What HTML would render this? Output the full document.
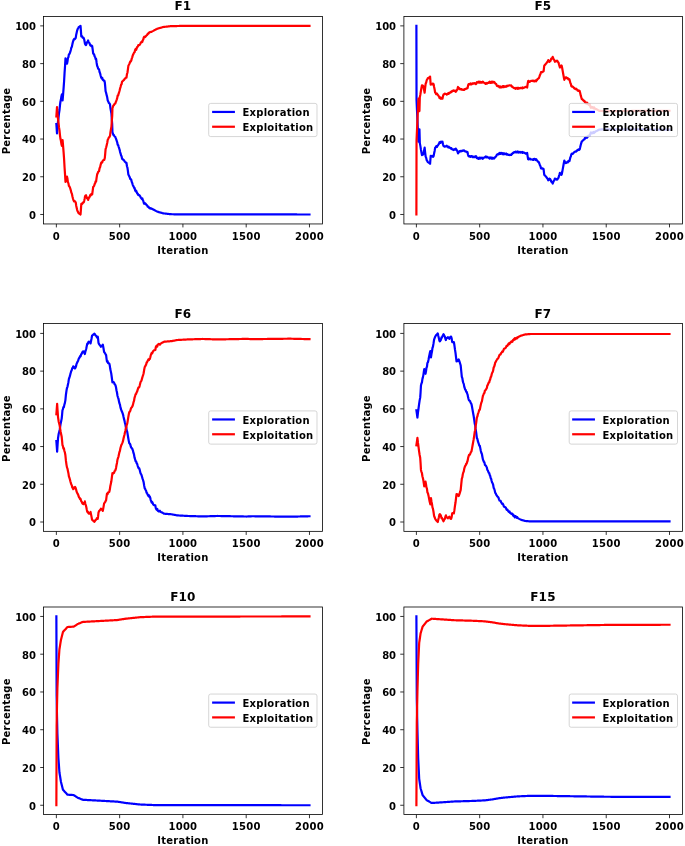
<!DOCTYPE html>
<html lang="en"><head><meta charset="utf-8"><title>Exploration vs Exploitation</title>
<style>
html,body{margin:0;padding:0;background:#fff}
body{width:685px;height:846px;overflow:hidden}
svg{display:block}
svg text{font-family:"DejaVu Sans","Liberation Sans",sans-serif;font-weight:bold;fill:#000}
.t10{font-size:10px;letter-spacing:.24px}
.lt{letter-spacing:.26px}
.yt{letter-spacing:0}
.t12{font-size:12px;letter-spacing:.2px}
.ln{fill:none;stroke-width:2.2;stroke-linecap:square;stroke-linejoin:round}
.b{stroke:#0000ff}
.r{stroke:#ff0000}
.tk{fill:none;stroke:#000;stroke-width:.8}
.fr{fill:none;stroke:#000;stroke-width:.8}
.lg{fill:#fff;fill-opacity:.8;stroke:#ccc;stroke-opacity:.8;stroke-width:1}
</style></head><body>
<svg width="685" height="846" viewBox="0 0 685 846">
<rect width="685" height="846" fill="#fff"/>
<g class="ax">
<path class="ln b" d="M56.37 123.96L57.01 133.39L57.45 127.73L57.89 122.37L58.46 118.23L59.03 112.95L59.5 110.04L59.96 105.35L60.42 101.74L60.93 99.62L61.44 96.22L61.94 94.38L62.58 100.31L63.08 94.58L63.59 88.19L64.09 81.27L64.56 72.86L65.02 66.32L65.49 58.42L65.99 59.68L66.5 61.09L67 63.67L67.47 61.52L67.93 58.08L68.4 57.21L68.88 54.48L69.37 54.1L69.85 52.99L70.34 51.68L70.82 50.01L71.31 47.8L71.88 46.7L72.45 43.86L73.02 41.59L73.58 39.87L74.12 39.01L74.66 39.27L75.2 38.71L75.74 37.89L76.2 34.7L76.66 32.74L77.13 30.54L77.63 29.08L78.14 28.22L78.65 27.21L79.12 26.88L79.6 26.55L80.07 26.22L80.54 25.89L80.92 31.06L81.3 36.41L81.78 35.99L82.27 36.57L82.75 37.75L83.23 37.61L83.71 38.11L84.15 39.35L84.59 41.44L85.04 44.02L85.48 44.69L86.01 45.13L86.54 43.61L87.07 42.01L87.61 42.02L88.14 40.43L88.68 42.47L89.21 42.67L89.75 43.78L90.29 45.38L90.76 45.05L91.24 46.2L91.71 45.74L92.19 46.1L92.69 49.7L93.2 53.5L93.68 53.82L94.17 54.62L94.65 56.39L95.14 57.04L95.62 59.04L96.11 58.93L96.62 62.7L97.12 65.79L97.6 66.79L98.07 68.41L98.55 68.94L99.02 69.17L99.56 72.1L100.1 73.2L100.63 75.53L101.17 77.46L101.7 78.29L102.22 77.81L102.74 79.62L103.27 80.15L103.79 80.63L104.32 80.54L104.84 82.61L105.22 86.7L105.6 91.25L106.14 92.9L106.68 95.22L107.21 97.36L107.75 100.57L108.32 101.61L108.89 102.98L109.46 103.36L110.03 104.51L110.49 108.52L110.96 111.12L111.42 113.66L111.8 119.13L112.18 124.17L112.43 132.1L112.91 133.55L113.38 134.89L113.86 135.08L114.33 136.06L114.81 136.62L115.28 136.86L115.76 138.2L116.23 139.39L116.72 140.79L117.2 142.27L117.69 144.89L118.17 145.03L118.66 146.8L119.14 148.22L119.63 149.85L120.11 152.05L120.6 153.55L121.08 155.56L121.57 156.17L122.05 158.65L122.54 159.16L123.04 159.45L123.53 160.05L124.02 160.27L124.51 161.28L125 161.89L125.5 162.16L125.99 162.77L126.48 162.85L126.96 166.25L127.43 167.64L127.9 170.91L128.38 174.53L128.86 175.49L129.35 176.46L129.83 177.56L130.32 179.1L130.8 179L131.29 179.89L131.76 181.91L132.24 183.01L132.71 184.82L133.19 185.92L133.66 186.65L134.14 187.91L134.61 188.09L135.09 190.35L135.62 191.36L136.16 190.57L136.7 192.06L137.24 193.49L137.77 193.59L138.31 195.25L138.85 195.17L139.39 195.19L139.87 195.85L140.36 196.61L140.84 197.82L141.33 198.11L141.81 198.92L142.3 198.37L142.81 200.09L143.31 200.99L143.82 203.08L144.3 203.73L144.79 203.2L145.27 203.38L145.76 204.08L146.24 204.63L146.73 205.08L147.23 205.52L147.74 206.71L148.25 206.53L148.75 207.12L149.26 207.99L149.77 208.3L150.27 208.19L150.78 208.54L151.28 208.45L151.78 208.71L152.27 208.98L152.77 209.25L153.27 209.51L153.76 209.78L154.26 210.05L154.75 210.32L155.25 210.58L155.74 210.85L156.24 211.12L156.74 211.38L157.23 211.65L157.74 211.79L158.24 211.93L158.75 212.08L159.26 212.22L159.76 212.36L160.27 212.5L160.77 212.64L161.28 212.78L161.79 212.92L162.29 213.07L162.8 213.21L163.31 213.35L163.8 213.41L164.3 213.47L164.8 213.53L165.29 213.59L165.79 213.65L166.29 213.71L166.79 213.77L167.28 213.83L167.78 213.89L168.28 213.96L168.77 214.02L169.27 214.08L169.77 214.14L170.27 214.2L170.77 214.21L171.28 214.22L171.78 214.23L172.29 214.24L172.8 214.25L173.3 214.27L173.81 214.28L174.31 214.29L174.82 214.3L175.33 214.31L175.83 214.32L176.34 214.33L176.85 214.34L177.35 214.36L177.86 214.37L178.36 214.38L178.87 214.39L179.38 214.4L179.88 214.41L180.39 214.42L180.9 214.42L181.4 214.42L181.91 214.42L182.41 214.42L182.92 214.42L183.43 214.43L183.93 214.43L184.44 214.43L184.94 214.43L185.45 214.43L185.96 214.43L186.46 214.43L186.97 214.43L187.48 214.43L187.98 214.43L188.49 214.43L188.99 214.43L189.5 214.43L190.01 214.43L190.51 214.43L191.02 214.43L191.53 214.43L192.03 214.43L192.54 214.43L193.04 214.43L193.55 214.43L194.06 214.43L194.56 214.43L195.07 214.43L195.57 214.43L196.08 214.43L196.59 214.43L197.09 214.43L197.6 214.43L198.11 214.43L198.61 214.43L199.12 214.43L199.62 214.43L200.13 214.43L200.64 214.43L201.14 214.43L201.65 214.43L202.15 214.43L202.66 214.43L203.17 214.43L203.67 214.43L204.18 214.43L204.69 214.43L205.19 214.43L205.7 214.43L206.2 214.44L206.71 214.44L207.22 214.44L207.72 214.44L208.23 214.44L208.74 214.44L209.24 214.44L209.75 214.44L210.25 214.44L210.76 214.44L211.27 214.44L211.77 214.44L212.28 214.44L212.78 214.44L213.29 214.44L213.8 214.44L214.3 214.44L214.81 214.44L215.32 214.44L215.82 214.44L216.33 214.44L216.83 214.44L217.34 214.44L217.85 214.44L218.35 214.44L218.86 214.44L219.37 214.44L219.87 214.44L220.38 214.44L220.88 214.44L221.39 214.44L221.9 214.44L222.4 214.44L222.91 214.44L223.41 214.44L223.92 214.44L224.43 214.44L224.93 214.44L225.44 214.44L225.95 214.44L226.45 214.44L226.96 214.44L227.46 214.44L227.97 214.44L228.48 214.44L228.98 214.45L229.49 214.45L229.99 214.45L230.5 214.45L231.01 214.45L231.51 214.45L232.02 214.45L232.53 214.45L233.03 214.45L233.54 214.45L234.04 214.45L234.55 214.45L235.06 214.45L235.56 214.45L236.07 214.45L236.58 214.45L237.08 214.45L237.59 214.45L238.09 214.45L238.6 214.45L239.11 214.45L239.61 214.45L240.12 214.45L240.62 214.45L241.13 214.45L241.64 214.45L242.14 214.45L242.65 214.45L243.16 214.45L243.66 214.45L244.17 214.45L244.67 214.45L245.18 214.45L245.69 214.45L246.19 214.45L246.7 214.45L247.21 214.45L247.71 214.45L248.22 214.45L248.72 214.45L249.23 214.45L249.74 214.45L250.24 214.45L250.75 214.45L251.25 214.45L251.76 214.46L252.27 214.46L252.77 214.46L253.28 214.46L253.79 214.46L254.29 214.46L254.8 214.46L255.3 214.46L255.81 214.46L256.32 214.46L256.82 214.46L257.33 214.46L257.83 214.46L258.34 214.46L258.85 214.46L259.35 214.46L259.86 214.46L260.37 214.46L260.87 214.46L261.38 214.46L261.88 214.46L262.39 214.46L262.9 214.46L263.4 214.46L263.91 214.46L264.42 214.46L264.92 214.46L265.43 214.46L265.93 214.46L266.44 214.46L266.95 214.46L267.45 214.46L267.96 214.46L268.46 214.46L268.97 214.46L269.48 214.46L269.98 214.46L270.49 214.46L271 214.46L271.5 214.46L272.01 214.46L272.51 214.46L273.02 214.46L273.53 214.46L274.03 214.46L274.54 214.47L275.05 214.47L275.55 214.47L276.06 214.47L276.56 214.47L277.07 214.47L277.58 214.47L278.08 214.47L278.59 214.47L279.09 214.47L279.6 214.47L280.11 214.47L280.61 214.47L281.12 214.47L281.63 214.47L282.13 214.47L282.64 214.47L283.14 214.47L283.65 214.47L284.16 214.47L284.66 214.47L285.17 214.47L285.67 214.47L286.18 214.47L286.69 214.47L287.19 214.47L287.7 214.47L288.21 214.47L288.71 214.47L289.22 214.47L289.72 214.47L290.23 214.47L290.74 214.47L291.24 214.47L291.75 214.47L292.26 214.47L292.76 214.47L293.27 214.47L293.77 214.47L294.28 214.47L294.79 214.47L295.29 214.47L295.8 214.47L296.3 214.47L296.81 214.47L297.32 214.48L297.82 214.48L298.33 214.48L298.84 214.48L299.34 214.48L299.85 214.48L300.35 214.48L300.86 214.48L301.37 214.48L301.87 214.48L302.38 214.48L302.89 214.48L303.39 214.48L303.9 214.48L304.4 214.48L304.91 214.48L305.42 214.48L305.92 214.48L306.43 214.48L306.93 214.48L307.44 214.48L307.95 214.48L308.45 214.48L308.96 214.48L309.47 214.48"/>
<path class="ln r" d="M56.37 116.41L57.01 106.98L57.45 112.64L57.89 118L58.46 122.14L59.03 127.42L59.5 130.33L59.96 135.02L60.42 138.63L60.93 140.75L61.44 144.15L61.94 145.99L62.58 140.06L63.08 145.79L63.59 152.18L64.09 159.1L64.56 167.51L65.02 174.05L65.49 181.95L65.99 180.69L66.5 179.28L67 176.7L67.47 178.85L67.93 182.29L68.4 183.16L68.88 185.89L69.37 186.27L69.85 187.38L70.34 188.69L70.82 190.36L71.31 192.57L71.88 193.67L72.45 196.51L73.02 198.78L73.58 200.5L74.12 201.36L74.66 201.1L75.2 201.66L75.74 202.48L76.2 205.67L76.66 207.63L77.13 209.83L77.63 211.29L78.14 212.15L78.65 213.16L79.12 213.49L79.6 213.82L80.07 214.15L80.54 214.48L80.92 209.31L81.3 203.96L81.78 204.38L82.27 203.8L82.75 202.62L83.23 202.76L83.71 202.26L84.15 201.02L84.59 198.93L85.04 196.35L85.48 195.68L86.01 195.24L86.54 196.76L87.07 198.36L87.61 198.35L88.14 199.94L88.68 197.9L89.21 197.7L89.75 196.59L90.29 194.99L90.76 195.32L91.24 194.17L91.71 194.63L92.19 194.27L92.69 190.67L93.2 186.87L93.68 186.55L94.17 185.75L94.65 183.98L95.14 183.33L95.62 181.33L96.11 181.44L96.62 177.67L97.12 174.58L97.6 173.58L98.07 171.96L98.55 171.43L99.02 171.2L99.56 168.27L100.1 167.17L100.63 164.84L101.17 162.91L101.7 162.08L102.22 162.56L102.74 160.75L103.27 160.22L103.79 159.74L104.32 159.83L104.84 157.76L105.22 153.67L105.6 149.12L106.14 147.47L106.68 145.15L107.21 143.01L107.75 139.8L108.32 138.76L108.89 137.39L109.46 137.01L110.03 135.86L110.49 131.85L110.96 129.25L111.42 126.71L111.8 121.24L112.18 116.2L112.43 108.27L112.91 106.82L113.38 105.48L113.86 105.29L114.33 104.31L114.81 103.75L115.28 103.51L115.76 102.17L116.23 100.98L116.72 99.58L117.2 98.1L117.69 95.48L118.17 95.34L118.66 93.57L119.14 92.15L119.63 90.52L120.11 88.32L120.6 86.82L121.08 84.81L121.57 84.2L122.05 81.72L122.54 81.21L123.04 80.92L123.53 80.32L124.02 80.1L124.51 79.09L125 78.48L125.5 78.21L125.99 77.6L126.48 77.52L126.96 74.12L127.43 72.73L127.9 69.46L128.38 65.84L128.86 64.88L129.35 63.91L129.83 62.81L130.32 61.27L130.8 61.37L131.29 60.48L131.76 58.46L132.24 57.36L132.71 55.55L133.19 54.45L133.66 53.72L134.14 52.46L134.61 52.28L135.09 50.02L135.62 49.01L136.16 49.8L136.7 48.31L137.24 46.88L137.77 46.78L138.31 45.12L138.85 45.2L139.39 45.18L139.87 44.52L140.36 43.76L140.84 42.55L141.33 42.26L141.81 41.45L142.3 42L142.81 40.28L143.31 39.38L143.82 37.29L144.3 36.64L144.79 37.17L145.27 36.99L145.76 36.29L146.24 35.74L146.73 35.29L147.23 34.85L147.74 33.66L148.25 33.84L148.75 33.25L149.26 32.38L149.77 32.07L150.27 32.18L150.78 31.83L151.28 31.92L151.78 31.66L152.27 31.39L152.77 31.12L153.27 30.86L153.76 30.59L154.26 30.32L154.75 30.05L155.25 29.79L155.74 29.52L156.24 29.25L156.74 28.99L157.23 28.72L157.74 28.58L158.24 28.44L158.75 28.29L159.26 28.15L159.76 28.01L160.27 27.87L160.77 27.73L161.28 27.59L161.79 27.45L162.29 27.3L162.8 27.16L163.31 27.02L163.8 26.96L164.3 26.9L164.8 26.84L165.29 26.78L165.79 26.72L166.29 26.66L166.79 26.6L167.28 26.54L167.78 26.48L168.28 26.41L168.77 26.35L169.27 26.29L169.77 26.23L170.27 26.17L170.77 26.16L171.28 26.15L171.78 26.14L172.29 26.13L172.8 26.12L173.3 26.1L173.81 26.09L174.31 26.08L174.82 26.07L175.33 26.06L175.83 26.05L176.34 26.04L176.85 26.03L177.35 26.01L177.86 26L178.36 25.99L178.87 25.98L179.38 25.97L179.88 25.96L180.39 25.95L180.9 25.95L181.4 25.95L181.91 25.95L182.41 25.95L182.92 25.95L183.43 25.94L183.93 25.94L184.44 25.94L184.94 25.94L185.45 25.94L185.96 25.94L186.46 25.94L186.97 25.94L187.48 25.94L187.98 25.94L188.49 25.94L188.99 25.94L189.5 25.94L190.01 25.94L190.51 25.94L191.02 25.94L191.53 25.94L192.03 25.94L192.54 25.94L193.04 25.94L193.55 25.94L194.06 25.94L194.56 25.94L195.07 25.94L195.57 25.94L196.08 25.94L196.59 25.94L197.09 25.94L197.6 25.94L198.11 25.94L198.61 25.94L199.12 25.94L199.62 25.94L200.13 25.94L200.64 25.94L201.14 25.94L201.65 25.94L202.15 25.94L202.66 25.94L203.17 25.94L203.67 25.94L204.18 25.94L204.69 25.94L205.19 25.94L205.7 25.94L206.2 25.93L206.71 25.93L207.22 25.93L207.72 25.93L208.23 25.93L208.74 25.93L209.24 25.93L209.75 25.93L210.25 25.93L210.76 25.93L211.27 25.93L211.77 25.93L212.28 25.93L212.78 25.93L213.29 25.93L213.8 25.93L214.3 25.93L214.81 25.93L215.32 25.93L215.82 25.93L216.33 25.93L216.83 25.93L217.34 25.93L217.85 25.93L218.35 25.93L218.86 25.93L219.37 25.93L219.87 25.93L220.38 25.93L220.88 25.93L221.39 25.93L221.9 25.93L222.4 25.93L222.91 25.93L223.41 25.93L223.92 25.93L224.43 25.93L224.93 25.93L225.44 25.93L225.95 25.93L226.45 25.93L226.96 25.93L227.46 25.93L227.97 25.93L228.48 25.93L228.98 25.92L229.49 25.92L229.99 25.92L230.5 25.92L231.01 25.92L231.51 25.92L232.02 25.92L232.53 25.92L233.03 25.92L233.54 25.92L234.04 25.92L234.55 25.92L235.06 25.92L235.56 25.92L236.07 25.92L236.58 25.92L237.08 25.92L237.59 25.92L238.09 25.92L238.6 25.92L239.11 25.92L239.61 25.92L240.12 25.92L240.62 25.92L241.13 25.92L241.64 25.92L242.14 25.92L242.65 25.92L243.16 25.92L243.66 25.92L244.17 25.92L244.67 25.92L245.18 25.92L245.69 25.92L246.19 25.92L246.7 25.92L247.21 25.92L247.71 25.92L248.22 25.92L248.72 25.92L249.23 25.92L249.74 25.92L250.24 25.92L250.75 25.92L251.25 25.92L251.76 25.91L252.27 25.91L252.77 25.91L253.28 25.91L253.79 25.91L254.29 25.91L254.8 25.91L255.3 25.91L255.81 25.91L256.32 25.91L256.82 25.91L257.33 25.91L257.83 25.91L258.34 25.91L258.85 25.91L259.35 25.91L259.86 25.91L260.37 25.91L260.87 25.91L261.38 25.91L261.88 25.91L262.39 25.91L262.9 25.91L263.4 25.91L263.91 25.91L264.42 25.91L264.92 25.91L265.43 25.91L265.93 25.91L266.44 25.91L266.95 25.91L267.45 25.91L267.96 25.91L268.46 25.91L268.97 25.91L269.48 25.91L269.98 25.91L270.49 25.91L271 25.91L271.5 25.91L272.01 25.91L272.51 25.91L273.02 25.91L273.53 25.91L274.03 25.91L274.54 25.9L275.05 25.9L275.55 25.9L276.06 25.9L276.56 25.9L277.07 25.9L277.58 25.9L278.08 25.9L278.59 25.9L279.09 25.9L279.6 25.9L280.11 25.9L280.61 25.9L281.12 25.9L281.63 25.9L282.13 25.9L282.64 25.9L283.14 25.9L283.65 25.9L284.16 25.9L284.66 25.9L285.17 25.9L285.67 25.9L286.18 25.9L286.69 25.9L287.19 25.9L287.7 25.9L288.21 25.9L288.71 25.9L289.22 25.9L289.72 25.9L290.23 25.9L290.74 25.9L291.24 25.9L291.75 25.9L292.26 25.9L292.76 25.9L293.27 25.9L293.77 25.9L294.28 25.9L294.79 25.9L295.29 25.9L295.8 25.9L296.3 25.9L296.81 25.9L297.32 25.89L297.82 25.89L298.33 25.89L298.84 25.89L299.34 25.89L299.85 25.89L300.35 25.89L300.86 25.89L301.37 25.89L301.87 25.89L302.38 25.89L302.89 25.89L303.39 25.89L303.9 25.89L304.4 25.89L304.91 25.89L305.42 25.89L305.92 25.89L306.43 25.89L306.93 25.89L307.44 25.89L307.95 25.89L308.45 25.89L308.96 25.89L309.47 25.89"/>
<path class="tk" d="M56.37 223.91v3.5M119.65 223.91v3.5M182.92 223.91v3.5M246.19 223.91v3.5M309.47 223.91v3.5M43.72 214.48h-3.5M43.72 176.76h-3.5M43.72 139.04h-3.5M43.72 101.33h-3.5M43.72 63.61h-3.5M43.72 25.89h-3.5"/>
<rect class="fr" x="43.5" y="16.45" width="278.95" height="207.5"/>
<g class="t10" text-anchor="middle">
<text x="56.37" y="240">0</text>
<text x="119.65" y="240">500</text>
<text x="182.92" y="240">1000</text>
<text x="246.19" y="240">1500</text>
<text x="309.47" y="240">2000</text>
<text x="182.92" y="254">Iteration</text>
</g>
<g class="t10 yt" text-anchor="end">
<text x="36.02" y="219">0</text>
<text x="36.02" y="181">20</text>
<text x="36.02" y="143">40</text>
<text x="36.02" y="106">60</text>
<text x="36.02" y="68">80</text>
<text x="36.02" y="30">100</text>
</g>
<text class="t10" text-anchor="middle" transform="translate(9.52 120.98) rotate(-90)">Percentage</text>
<text class="t12" text-anchor="middle" x="182.92" y="10.26">F1</text>
<rect class="lg" x="208.7" y="103.39" width="108.3" height="33.2" rx="2" ry="2"/>
<path class="ln b" d="M213.22 111.94h20.6"/>
<path class="ln r" d="M213.22 126.74h20.6"/>
<text class="t10 lt" x="242.42" y="116">Exploration</text>
<text class="t10 lt" x="242.42" y="131">Exploitation</text>
</g>
<g class="ax">
<path class="ln b" d="M416.4 25.89L416.53 100.01L417.01 110.57L417.48 121.13L417.95 131.43L418.43 141.65L418.94 136.1L419.44 129.23L419.82 143.11L420.36 145.89L420.9 149.41L421.43 152.33L421.97 155.06L422.48 154.85L422.98 154.58L423.49 153.78L424.06 150.49L424.63 147.65L425.14 152.46L425.64 156.57L426.18 157.84L426.72 160.24L427.26 160.94L427.79 162.08L428.36 162.43L428.93 162.66L429.5 163.21L430.07 163.8L430.7 155.82L431.19 156.52L431.67 156L432.16 155.87L432.64 156.72L433.13 156.81L433.61 156.18L434.12 153.33L434.63 150.92L435.13 147.83L435.62 147.55L436.1 146.3L436.59 146.18L437.07 146.8L437.56 145.65L438.04 145.2L438.55 144.43L439.06 143.64L439.56 142.19L440.05 142.74L440.53 142.89L441.02 141.63L441.5 142.05L441.99 142.22L442.47 141.68L443.04 144.51L443.61 146.1L444.14 146.03L444.67 146.72L445.19 146.54L445.72 146.36L446.25 146.3L446.78 145.72L447.26 146.47L447.75 146.57L448.23 147.26L448.72 146.55L449.2 147.6L449.69 147.77L450.17 147.92L450.66 147.81L451.14 148.77L451.63 148.43L452.11 149.29L452.6 149.56L453.12 149.47L453.65 150.03L454.17 149.36L454.69 149.59L455.22 149.72L455.74 148.56L456.27 149.28L456.71 149.97L457.15 150.72L457.6 152.03L458.04 153.42L458.51 152.65L458.99 152.08L459.46 151.26L459.94 151.63L460.46 150.98L460.98 151.34L461.51 151.25L462.03 150.54L462.56 150.83L463.08 150.71L463.61 150.39L464.1 150.38L464.59 151.19L465.08 151.15L465.57 151.48L466.06 151.66L466.55 151.61L467.04 152.12L467.53 152.2L467.97 154.44L468.41 156L468.91 156.32L469.41 156.09L469.91 156L470.41 156.9L470.9 156.5L471.4 156L471.9 156.13L472.4 157.06L472.89 157.08L473.39 156.66L473.89 157.15L474.39 156.93L474.89 157.15L475.38 156.36L475.88 156.21L476.39 156.62L476.89 158.17L477.4 158L477.88 158.07L478.37 158.75L478.85 157.77L479.34 157.66L479.82 158.65L480.31 157.68L480.8 158.41L481.28 158.3L481.77 157.63L482.25 157.84L482.74 158.73L483.22 158.37L483.73 157.76L484.23 157.49L484.74 157.17L485.22 157.01L485.71 156.48L486.19 157.41L486.68 156.7L487.16 156.85L487.65 157.41L488.11 157.43L488.58 157.49L489.04 158.08L489.53 158.67L490.01 157.45L490.5 157.71L490.98 157.47L491.47 158.61L491.95 158.4L492.44 158.7L492.92 157.72L493.41 158.39L493.89 158.58L494.38 158.19L494.86 157.55L495.37 156.79L495.88 156.65L496.38 155.91L496.89 154.52L497.39 154.6L497.9 154.06L498.41 154.48L498.91 154.15L499.42 152.94L499.93 153.35L500.44 153.88L500.95 152.81L501.47 153.27L501.98 153.12L502.49 154.13L503 153.18L503.51 154.29L504.02 153.3L504.54 153.91L505.05 154.12L505.56 153.91L506.07 153.48L506.58 154.41L507.09 154.66L507.61 154.2L508.12 154.65L508.63 154.88L509.14 154.88L509.65 155.09L510.16 154.96L510.68 154.88L511.19 154.95L511.67 153.85L512.16 153.97L512.64 153.19L513.13 153.11L513.61 152.38L514.1 152.32L514.6 152.07L515.1 152.44L515.6 151.55L516.1 151.84L516.6 152.38L517.11 152.06L517.61 151.51L518.11 152.66L518.61 151.78L519.11 152.35L519.61 152.32L520.11 151.93L520.61 152.58L521.12 152.48L521.62 152.3L522.12 151.97L522.62 152.87L523.12 152.29L523.62 152.51L524.12 152.66L524.63 153.02L525.13 153.16L525.63 153.6L526.13 153.56L526.63 153.7L527.13 152.87L527.64 156.34L528.14 159.29L528.64 159.45L529.14 158.51L529.64 158.52L530.14 158.84L530.64 159.41L531.14 159.52L531.64 159.51L532.13 159.34L532.63 159.8L533.13 159.47L533.63 159.77L534.13 158.9L534.63 158.94L535.13 159.56L535.63 160.02L536.12 159.12L536.62 160.04L537.16 160.54L537.7 161.58L538.24 161.64L538.77 162.09L539.34 163.46L539.91 165.28L540.48 166.29L541.05 168.36L541.56 168.17L542.06 168.55L542.57 168.3L543.08 168.92L543.58 169.09L544.22 174.57L544.72 175.39L545.23 175.66L545.73 176.46L546.24 176.9L546.75 177.76L547.25 178.41L547.76 178.93L548.26 180.3L548.77 179.88L549.28 178.51L549.78 179.11L550.27 179.2L550.75 180.16L551.24 181.8L551.72 181.6L552.21 182.37L552.69 183.57L553.23 182.16L553.77 180.78L554.31 180.4L554.85 178.62L555.38 179.02L555.92 178.96L556.46 179.38L557 179.73L557.5 179.35L558.01 178.26L558.52 177.84L558.98 175.88L559.44 174.54L559.91 172.86L560.35 173.43L560.79 173.83L561.24 174.88L561.68 174.62L562.21 172.08L562.74 169.09L563.27 166.19L563.8 163.21L564.34 160.56L564.8 162.14L565.26 162.04L565.73 163.04L566.25 162.96L566.78 162.52L567.3 161.95L567.83 162.33L568.35 161.04L568.87 161.27L569.4 161.11L569.87 159.39L570.35 157.32L570.82 156.55L571.3 154.38L571.82 153.67L572.34 153.91L572.86 153.66L573.38 153.13L573.9 152.46L574.42 151.96L574.94 151.76L575.46 151.32L575.98 151.67L576.5 151.26L577.03 150.79L577.55 149.82L578.08 150.08L578.6 149.41L579.12 149.82L579.65 149.43L580.19 147.32L580.72 144.95L581.26 143.08L581.8 141.26L582.32 141.26L582.85 140.45L583.37 140.01L583.9 139.49L584.42 139.44L584.95 137.9L585.47 138.31L586.01 137L586.54 136.77L587.08 137.7L587.62 136.84L588.16 136.08L588.7 135.6L589.23 136L589.77 135.95L590.4 133.58L590.91 132.52L591.42 133.39L591.92 132.81L592.43 133.29L592.94 132.69L593.44 132.03L593.95 133.02L594.45 132.02L594.96 132.12L595.47 131.3L595.97 131.23L596.48 131.19L596.98 130.87L597.49 130.56L598 130.24L598.5 129.93L599.01 129.61L599.53 129.57L600.05 129.53L600.57 129.49L601.09 129.45L601.61 129.4L602.13 129.36L602.65 129.32L603.17 129.28L603.69 129.24L604.2 129.24L604.7 129.24L605.21 129.25L605.72 129.25L606.22 129.25L606.73 129.25L607.24 129.26L607.74 129.26L608.25 129.26L608.75 129.27L609.26 129.27L609.77 129.27L610.27 129.28L610.78 129.28L611.28 129.28L611.79 129.28L612.3 129.29L612.8 129.29L613.31 129.29L613.82 129.3L614.32 129.3L614.83 129.3L615.33 129.3L615.84 129.31L616.35 129.31L616.85 129.31L617.36 129.32L617.86 129.32L618.37 129.32L618.88 129.32L619.38 129.33L619.89 129.33L620.4 129.33L620.9 129.34L621.41 129.34L621.91 129.34L622.42 129.34L622.93 129.35L623.43 129.35L623.94 129.35L624.45 129.36L624.95 129.36L625.46 129.36L625.96 129.37L626.47 129.37L626.98 129.37L627.48 129.37L627.99 129.38L628.49 129.38L629 129.38L629.51 129.39L630.01 129.39L630.52 129.39L631.03 129.39L631.53 129.4L632.04 129.4L632.54 129.4L633.05 129.41L633.56 129.41L634.06 129.41L634.57 129.41L635.08 129.42L635.58 129.42L636.09 129.42L636.59 129.43L637.1 129.43L637.61 129.43L638.11 129.43L638.62 129.44L639.12 129.44L639.63 129.44L640.14 129.45L640.64 129.45L641.15 129.45L641.66 129.45L642.16 129.46L642.67 129.46L643.17 129.46L643.68 129.47L644.19 129.47L644.69 129.47L645.2 129.48L645.7 129.48L646.21 129.48L646.72 129.48L647.22 129.49L647.73 129.49L648.24 129.49L648.74 129.5L649.25 129.5L649.75 129.5L650.26 129.5L650.77 129.51L651.27 129.51L651.78 129.51L652.29 129.52L652.79 129.52L653.3 129.52L653.8 129.52L654.31 129.53L654.82 129.53L655.32 129.53L655.83 129.54L656.33 129.54L656.84 129.54L657.35 129.54L657.85 129.55L658.36 129.55L658.87 129.55L659.37 129.56L659.88 129.56L660.38 129.56L660.89 129.57L661.4 129.57L661.9 129.57L662.41 129.57L662.92 129.58L663.42 129.58L663.93 129.58L664.43 129.59L664.94 129.59L665.45 129.59L665.95 129.59L666.46 129.6L666.96 129.6L667.47 129.6L667.98 129.61L668.48 129.61L668.99 129.61L669.5 129.61"/>
<path class="ln r" d="M416.4 214.48L416.53 140.36L417.01 129.8L417.48 119.24L417.95 108.94L418.43 98.72L418.94 104.27L419.44 111.14L419.82 97.26L420.36 94.48L420.9 90.96L421.43 88.04L421.97 85.31L422.48 85.52L422.98 85.79L423.49 86.59L424.06 89.88L424.63 92.72L425.14 87.91L425.64 83.8L426.18 82.53L426.72 80.13L427.26 79.43L427.79 78.29L428.36 77.94L428.93 77.71L429.5 77.16L430.07 76.57L430.7 84.55L431.19 83.85L431.67 84.37L432.16 84.5L432.64 83.65L433.13 83.56L433.61 84.19L434.12 87.04L434.63 89.45L435.13 92.54L435.62 92.82L436.1 94.07L436.59 94.19L437.07 93.57L437.56 94.72L438.04 95.17L438.55 95.94L439.06 96.73L439.56 98.18L440.05 97.63L440.53 97.48L441.02 98.74L441.5 98.32L441.99 98.15L442.47 98.69L443.04 95.86L443.61 94.27L444.14 94.34L444.67 93.65L445.19 93.83L445.72 94.01L446.25 94.07L446.78 94.65L447.26 93.9L447.75 93.8L448.23 93.11L448.72 93.82L449.2 92.77L449.69 92.6L450.17 92.45L450.66 92.56L451.14 91.6L451.63 91.94L452.11 91.08L452.6 90.81L453.12 90.9L453.65 90.34L454.17 91.01L454.69 90.78L455.22 90.65L455.74 91.81L456.27 91.09L456.71 90.4L457.15 89.65L457.6 88.34L458.04 86.95L458.51 87.72L458.99 88.29L459.46 89.11L459.94 88.74L460.46 89.39L460.98 89.03L461.51 89.12L462.03 89.83L462.56 89.54L463.08 89.66L463.61 89.98L464.1 89.99L464.59 89.18L465.08 89.22L465.57 88.89L466.06 88.71L466.55 88.76L467.04 88.25L467.53 88.17L467.97 85.93L468.41 84.37L468.91 84.05L469.41 84.28L469.91 84.37L470.41 83.47L470.9 83.87L471.4 84.37L471.9 84.24L472.4 83.31L472.89 83.29L473.39 83.71L473.89 83.22L474.39 83.44L474.89 83.22L475.38 84.01L475.88 84.16L476.39 83.75L476.89 82.2L477.4 82.37L477.88 82.3L478.37 81.62L478.85 82.6L479.34 82.71L479.82 81.72L480.31 82.69L480.8 81.96L481.28 82.07L481.77 82.74L482.25 82.53L482.74 81.64L483.22 82L483.73 82.61L484.23 82.88L484.74 83.2L485.22 83.36L485.71 83.89L486.19 82.96L486.68 83.67L487.16 83.52L487.65 82.96L488.11 82.94L488.58 82.88L489.04 82.29L489.53 81.7L490.01 82.92L490.5 82.66L490.98 82.9L491.47 81.76L491.95 81.97L492.44 81.67L492.92 82.65L493.41 81.98L493.89 81.79L494.38 82.18L494.86 82.82L495.37 83.58L495.88 83.72L496.38 84.46L496.89 85.85L497.39 85.77L497.9 86.31L498.41 85.89L498.91 86.22L499.42 87.43L499.93 87.02L500.44 86.49L500.95 87.56L501.47 87.1L501.98 87.25L502.49 86.24L503 87.19L503.51 86.08L504.02 87.07L504.54 86.46L505.05 86.25L505.56 86.46L506.07 86.89L506.58 85.96L507.09 85.71L507.61 86.17L508.12 85.72L508.63 85.49L509.14 85.49L509.65 85.28L510.16 85.41L510.68 85.49L511.19 85.42L511.67 86.52L512.16 86.4L512.64 87.18L513.13 87.26L513.61 87.99L514.1 88.05L514.6 88.3L515.1 87.93L515.6 88.82L516.1 88.53L516.6 87.99L517.11 88.31L517.61 88.86L518.11 87.71L518.61 88.59L519.11 88.02L519.61 88.05L520.11 88.44L520.61 87.79L521.12 87.89L521.62 88.07L522.12 88.4L522.62 87.5L523.12 88.08L523.62 87.86L524.12 87.71L524.63 87.35L525.13 87.21L525.63 86.77L526.13 86.81L526.63 86.67L527.13 87.5L527.64 84.03L528.14 81.08L528.64 80.92L529.14 81.86L529.64 81.85L530.14 81.53L530.64 80.96L531.14 80.85L531.64 80.86L532.13 81.03L532.63 80.57L533.13 80.9L533.63 80.6L534.13 81.47L534.63 81.43L535.13 80.81L535.63 80.35L536.12 81.25L536.62 80.33L537.16 79.83L537.7 78.79L538.24 78.73L538.77 78.28L539.34 76.91L539.91 75.09L540.48 74.08L541.05 72.01L541.56 72.2L542.06 71.82L542.57 72.07L543.08 71.45L543.58 71.28L544.22 65.8L544.72 64.98L545.23 64.71L545.73 63.91L546.24 63.47L546.75 62.61L547.25 61.96L547.76 61.44L548.26 60.07L548.77 60.49L549.28 61.86L549.78 61.26L550.27 61.17L550.75 60.21L551.24 58.57L551.72 58.77L552.21 58L552.69 56.8L553.23 58.21L553.77 59.59L554.31 59.97L554.85 61.75L555.38 61.35L555.92 61.41L556.46 60.99L557 60.64L557.5 61.02L558.01 62.11L558.52 62.53L558.98 64.49L559.44 65.83L559.91 67.51L560.35 66.94L560.79 66.54L561.24 65.49L561.68 65.75L562.21 68.29L562.74 71.28L563.27 74.18L563.8 77.16L564.34 79.81L564.8 78.23L565.26 78.33L565.73 77.33L566.25 77.41L566.78 77.85L567.3 78.42L567.83 78.04L568.35 79.33L568.87 79.1L569.4 79.26L569.87 80.98L570.35 83.05L570.82 83.82L571.3 85.99L571.82 86.7L572.34 86.46L572.86 86.71L573.38 87.24L573.9 87.91L574.42 88.41L574.94 88.61L575.46 89.05L575.98 88.7L576.5 89.11L577.03 89.58L577.55 90.55L578.08 90.29L578.6 90.96L579.12 90.55L579.65 90.94L580.19 93.05L580.72 95.42L581.26 97.29L581.8 99.11L582.32 99.11L582.85 99.92L583.37 100.36L583.9 100.88L584.42 100.93L584.95 102.47L585.47 102.06L586.01 103.37L586.54 103.6L587.08 102.67L587.62 103.53L588.16 104.29L588.7 104.77L589.23 104.37L589.77 104.42L590.4 106.79L590.91 107.85L591.42 106.98L591.92 107.56L592.43 107.08L592.94 107.68L593.44 108.34L593.95 107.35L594.45 108.35L594.96 108.25L595.47 109.07L595.97 109.14L596.48 109.18L596.98 109.5L597.49 109.81L598 110.13L598.5 110.44L599.01 110.76L599.53 110.8L600.05 110.84L600.57 110.88L601.09 110.92L601.61 110.97L602.13 111.01L602.65 111.05L603.17 111.09L603.69 111.13L604.2 111.13L604.7 111.13L605.21 111.12L605.72 111.12L606.22 111.12L606.73 111.12L607.24 111.11L607.74 111.11L608.25 111.11L608.75 111.1L609.26 111.1L609.77 111.1L610.27 111.09L610.78 111.09L611.28 111.09L611.79 111.09L612.3 111.08L612.8 111.08L613.31 111.08L613.82 111.07L614.32 111.07L614.83 111.07L615.33 111.07L615.84 111.06L616.35 111.06L616.85 111.06L617.36 111.05L617.86 111.05L618.37 111.05L618.88 111.05L619.38 111.04L619.89 111.04L620.4 111.04L620.9 111.03L621.41 111.03L621.91 111.03L622.42 111.03L622.93 111.02L623.43 111.02L623.94 111.02L624.45 111.01L624.95 111.01L625.46 111.01L625.96 111L626.47 111L626.98 111L627.48 111L627.99 110.99L628.49 110.99L629 110.99L629.51 110.98L630.01 110.98L630.52 110.98L631.03 110.98L631.53 110.97L632.04 110.97L632.54 110.97L633.05 110.96L633.56 110.96L634.06 110.96L634.57 110.96L635.08 110.95L635.58 110.95L636.09 110.95L636.59 110.94L637.1 110.94L637.61 110.94L638.11 110.94L638.62 110.93L639.12 110.93L639.63 110.93L640.14 110.92L640.64 110.92L641.15 110.92L641.66 110.92L642.16 110.91L642.67 110.91L643.17 110.91L643.68 110.9L644.19 110.9L644.69 110.9L645.2 110.89L645.7 110.89L646.21 110.89L646.72 110.89L647.22 110.88L647.73 110.88L648.24 110.88L648.74 110.87L649.25 110.87L649.75 110.87L650.26 110.87L650.77 110.86L651.27 110.86L651.78 110.86L652.29 110.85L652.79 110.85L653.3 110.85L653.8 110.85L654.31 110.84L654.82 110.84L655.32 110.84L655.83 110.83L656.33 110.83L656.84 110.83L657.35 110.83L657.85 110.82L658.36 110.82L658.87 110.82L659.37 110.81L659.88 110.81L660.38 110.81L660.89 110.8L661.4 110.8L661.9 110.8L662.41 110.8L662.92 110.79L663.42 110.79L663.93 110.79L664.43 110.78L664.94 110.78L665.45 110.78L665.95 110.78L666.46 110.77L666.96 110.77L667.47 110.77L667.98 110.76L668.48 110.76L668.99 110.76L669.5 110.76"/>
<path class="tk" d="M416.4 223.91v3.5M479.68 223.91v3.5M542.95 223.91v3.5M606.22 223.91v3.5M669.5 223.91v3.5M403.75 214.48h-3.5M403.75 176.76h-3.5M403.75 139.04h-3.5M403.75 101.33h-3.5M403.75 63.61h-3.5M403.75 25.89h-3.5"/>
<rect class="fr" x="403.9" y="16.45" width="278.65" height="207.5"/>
<g class="t10" text-anchor="middle">
<text x="416.4" y="240">0</text>
<text x="479.68" y="240">500</text>
<text x="542.95" y="240">1000</text>
<text x="606.22" y="240">1500</text>
<text x="669.5" y="240">2000</text>
<text x="542.95" y="254">Iteration</text>
</g>
<g class="t10 yt" text-anchor="end">
<text x="396.05" y="219">0</text>
<text x="396.05" y="181">20</text>
<text x="396.05" y="143">40</text>
<text x="396.05" y="106">60</text>
<text x="396.05" y="68">80</text>
<text x="396.05" y="30">100</text>
</g>
<text class="t10" text-anchor="middle" transform="translate(369.55 120.98) rotate(-90)">Percentage</text>
<text class="t12" text-anchor="middle" x="542.95" y="10.26">F5</text>
<rect class="lg" x="569.2" y="103.39" width="108.3" height="33.2" rx="2" ry="2"/>
<path class="ln b" d="M573.25 111.94h20.6"/>
<path class="ln r" d="M573.25 126.74h20.6"/>
<text class="t10 lt" x="602.45" y="116">Exploration</text>
<text class="t10 lt" x="602.45" y="131">Exploitation</text>
</g>
<g class="ax">
<path class="ln b" d="M56.37 441.09L56.75 446.38L57.13 451.66L57.58 444.77L58.02 438.34L58.65 434.01L59.29 431.5L59.66 429.93L60.04 427.6L60.59 423.95L61.14 421.19L61.69 418.61L62.07 414.83L62.45 410.43L62.93 409.2L63.41 407.02L63.89 407.16L64.37 404.61L64.85 403.18L65.4 400.12L65.95 394.48L66.5 390.57L66.98 388.02L67.46 386.84L67.94 384.47L68.42 382.21L68.9 378.96L69.38 377.73L69.86 376.19L70.35 374.15L70.83 372.49L71.31 370.95L71.79 370.07L72.27 368.03L72.75 368.17L73.23 366.28L73.71 366.65L74.34 367.75L74.98 368.47L75.51 367.73L76.04 366.14L76.57 363.87L77.1 362.71L77.63 361.55L78.12 360.76L78.6 359.19L79.08 358.05L79.56 357.62L80.04 356.23L80.59 356.43L81.14 354.33L81.68 353.86L82.23 352.41L82.78 351.65L83.33 351.31L83.83 352.53L84.34 351.86L84.85 354.03L85.33 351.67L85.81 350.12L86.29 348.43L86.77 345.9L87.25 343.73L87.8 343.87L88.35 342.13L88.9 341.67L89.45 341.74L89.99 342.52L90.54 343.4L91.05 341.02L91.55 338.56L92.06 335.67L92.54 335.26L93.02 334.84L93.5 334.43L93.98 334.01L94.46 333.6L95.01 334.54L95.56 335.48L96.11 335.74L96.66 336.75L97.21 337.53L97.75 336.68L98.13 339.26L98.51 342.92L99 344.09L99.48 344.64L99.96 345.46L100.44 345.67L100.92 346.74L101.39 346.3L101.87 346.08L102.34 345.36L102.82 344.63L103.45 348.07L104.08 351.85L104.59 352.65L105.09 353.26L105.6 354.32L106.11 355.18L106.55 358.86L106.99 361.7L107.56 361.14L108.13 363.18L108.7 363.15L109.27 363.55L109.78 365.56L110.28 369.06L110.79 371.37L111.3 373.82L111.86 377.99L112.43 382.35L112.97 381.79L113.5 382.27L114.03 382.53L114.56 384.27L115.09 384.56L115.57 385.62L116.04 387.52L116.52 390.46L116.99 392.48L117.47 395.7L117.95 397.26L118.43 398.58L118.91 400.98L119.39 403.15L119.92 404.56L120.45 407.39L120.98 409.23L121.5 410.75L122.03 411.73L122.56 413.06L123.04 414.55L123.52 416.84L124 418.89L124.48 420.62L124.96 423.06L125.41 424.65L125.85 427.26L126.29 427.74L126.73 430.42L127.24 431.82L127.75 434.85L128.25 438L128.76 440.86L129.26 443.21L129.79 443.64L130.31 444.61L130.84 446.68L131.36 447.83L131.89 448.14L132.41 449.12L132.93 450.53L133.47 452.96L134 454.46L134.53 457.62L135.06 459.27L135.59 461.15L136.1 461.41L136.6 463.06L137.11 463.76L137.62 465.56L138.12 467.08L138.63 468.16L139.14 468.06L139.64 469.6L140.13 471.66L140.61 473.53L141.1 474.1L141.58 475.19L142.07 477L142.55 478.66L143.09 480.27L143.63 482.15L144.17 485.64L144.7 488.28L145.17 488.96L145.63 490.01L146.1 490.76L146.56 492.78L147.02 492.96L147.49 494.25L147.95 495.12L148.42 496.1L148.88 495.27L149.34 496.86L149.81 496.47L150.27 497.94L150.71 500.03L151.16 501.19L151.68 502.55L152.2 502L152.72 503.34L153.25 504.43L153.77 504.93L154.29 505.17L154.81 505.31L155.33 505.4L155.78 508.17L156.22 509.17L156.74 509.83L157.27 508.88L157.79 510.65L158.32 511.15L158.84 511.49L159.36 511.27L159.89 510.76L160.43 511.72L160.96 512.01L161.5 512.29L162.04 512.57L162.58 512.85L163.12 513.14L163.65 513.42L164.19 513.7L164.72 513.74L165.24 513.78L165.76 513.82L166.29 513.86L166.81 513.9L167.34 513.94L167.86 513.99L168.39 514.03L168.91 514.07L169.43 514.11L169.96 514.15L170.48 514.19L171.01 514.23L171.53 514.27L172.02 514.36L172.5 514.46L172.99 514.55L173.47 514.65L173.96 514.74L174.44 514.83L174.93 514.93L175.41 515.02L175.9 515.12L176.38 515.21L176.87 515.31L177.35 515.4L177.86 515.43L178.38 515.46L178.89 515.48L179.4 515.51L179.91 515.54L180.43 515.57L180.94 515.6L181.45 515.63L181.96 515.65L182.48 515.68L182.99 515.71L183.5 515.74L184.01 515.77L184.53 515.8L185.04 515.82L185.55 515.85L186.06 515.88L186.58 515.91L187.09 515.94L187.6 515.97L188.11 515.98L188.61 516L189.12 516.01L189.63 516.03L190.13 516.04L190.64 516.06L191.15 516.08L191.65 516.09L192.16 516.11L192.66 516.12L193.17 516.14L193.68 516.15L194.18 516.17L194.69 516.19L195.19 516.2L195.7 516.22L196.21 516.23L196.71 516.25L197.22 516.26L197.73 516.28L198.23 516.3L198.74 516.31L199.24 516.33L199.75 516.34L200.26 516.36L200.76 516.37L201.27 516.39L201.78 516.41L202.28 516.42L202.79 516.44L203.29 516.42L203.79 516.4L204.29 516.39L204.79 516.37L205.3 516.36L205.8 516.34L206.3 516.32L206.8 516.31L207.3 516.29L207.81 516.27L208.31 516.26L208.81 516.24L209.31 516.23L209.81 516.21L210.31 516.19L210.82 516.18L211.32 516.16L211.82 516.14L212.32 516.13L212.82 516.11L213.33 516.1L213.83 516.08L214.33 516.06L214.83 516.05L215.33 516.03L215.83 516.01L216.34 516L216.84 515.98L217.34 515.97L217.84 515.98L218.34 515.99L218.85 515.99L219.35 516L219.85 516.01L220.35 516.02L220.85 516.03L221.35 516.04L221.86 516.05L222.36 516.06L222.86 516.07L223.36 516.08L223.86 516.09L224.37 516.1L224.87 516.11L225.37 516.12L225.87 516.13L226.37 516.14L226.87 516.15L227.38 516.16L227.88 516.17L228.38 516.18L228.88 516.19L229.38 516.2L229.89 516.21L230.39 516.22L230.89 516.23L231.39 516.24L231.89 516.25L232.39 516.26L232.9 516.27L233.4 516.28L233.9 516.29L234.4 516.3L234.9 516.31L235.41 516.32L235.91 516.33L236.41 516.34L236.91 516.35L237.41 516.36L237.91 516.37L238.42 516.38L238.92 516.38L239.42 516.39L239.92 516.4L240.42 516.41L240.93 516.42L241.43 516.43L241.93 516.44L242.43 516.45L242.93 516.46L243.43 516.47L243.94 516.48L244.44 516.49L244.94 516.5L245.44 516.51L245.94 516.52L246.45 516.53L246.93 516.51L247.42 516.48L247.9 516.46L248.39 516.44L248.87 516.41L249.36 516.39L249.84 516.37L250.33 516.34L250.81 516.32L251.3 516.3L251.78 516.27L252.27 516.25L252.77 516.25L253.28 516.26L253.78 516.27L254.28 516.27L254.79 516.28L255.29 516.29L255.8 516.29L256.3 516.3L256.81 516.31L257.31 516.31L257.82 516.32L258.32 516.32L258.83 516.33L259.33 516.34L259.83 516.34L260.34 516.35L260.84 516.36L261.35 516.36L261.85 516.37L262.36 516.37L262.86 516.38L263.37 516.39L263.87 516.39L264.37 516.4L264.88 516.41L265.38 516.41L265.89 516.42L266.39 516.42L266.9 516.43L267.4 516.44L267.91 516.44L268.41 516.45L268.92 516.46L269.42 516.46L269.92 516.47L270.43 516.47L270.93 516.48L271.44 516.49L271.94 516.49L272.45 516.5L272.95 516.51L273.46 516.51L273.96 516.52L274.46 516.53L274.97 516.53L275.47 516.54L275.98 516.54L276.48 516.55L276.99 516.56L277.49 516.56L278 516.57L278.5 516.58L279.01 516.58L279.51 516.59L280.01 516.59L280.52 516.6L281.02 516.61L281.53 516.61L282.03 516.62L282.54 516.63L283.04 516.63L283.55 516.64L284.05 516.64L284.55 516.65L285.06 516.66L285.56 516.66L286.07 516.67L286.57 516.68L287.08 516.68L287.58 516.69L288.09 516.69L288.59 516.7L289.1 516.71L289.6 516.71L290.1 516.72L290.61 516.71L291.12 516.7L291.63 516.68L292.14 516.67L292.65 516.66L293.16 516.65L293.67 516.63L294.18 516.62L294.69 516.61L295.2 516.6L295.71 516.58L296.22 516.57L296.73 516.56L297.24 516.55L297.75 516.53L298.26 516.52L298.77 516.51L299.28 516.5L299.78 516.48L300.29 516.47L300.8 516.46L301.31 516.45L301.82 516.43L302.33 516.42L302.84 516.41L303.35 516.4L303.86 516.38L304.37 516.37L304.88 516.36L305.39 516.35L305.9 516.34L306.41 516.32L306.92 516.31L307.43 516.3L307.94 516.29L308.45 516.27L308.96 516.26L309.47 516.25"/>
<path class="ln r" d="M56.37 414.32L56.75 409.03L57.13 403.75L57.58 410.64L58.02 417.07L58.65 421.4L59.29 423.91L59.66 425.48L60.04 427.81L60.59 431.46L61.14 434.22L61.69 436.8L62.07 440.58L62.45 444.98L62.93 446.21L63.41 448.39L63.89 448.25L64.37 450.8L64.85 452.23L65.4 455.29L65.95 460.93L66.5 464.84L66.98 467.39L67.46 468.57L67.94 470.94L68.42 473.2L68.9 476.45L69.38 477.68L69.86 479.22L70.35 481.26L70.83 482.92L71.31 484.46L71.79 485.34L72.27 487.38L72.75 487.24L73.23 489.13L73.71 488.76L74.34 487.66L74.98 486.94L75.51 487.68L76.04 489.27L76.57 491.54L77.1 492.7L77.63 493.86L78.12 494.65L78.6 496.22L79.08 497.36L79.56 497.79L80.04 499.18L80.59 498.98L81.14 501.08L81.68 501.55L82.23 503L82.78 503.76L83.33 504.1L83.83 502.88L84.34 503.55L84.85 501.38L85.33 503.74L85.81 505.29L86.29 506.98L86.77 509.51L87.25 511.68L87.8 511.54L88.35 513.28L88.9 513.74L89.45 513.67L89.99 512.89L90.54 512.01L91.05 514.39L91.55 516.85L92.06 519.74L92.54 520.15L93.02 520.57L93.5 520.98L93.98 521.4L94.46 521.81L95.01 520.87L95.56 519.93L96.11 519.67L96.66 518.66L97.21 517.88L97.75 518.73L98.13 516.15L98.51 512.49L99 511.32L99.48 510.77L99.96 509.95L100.44 509.74L100.92 508.67L101.39 509.11L101.87 509.33L102.34 510.05L102.82 510.78L103.45 507.34L104.08 503.56L104.59 502.76L105.09 502.15L105.6 501.09L106.11 500.23L106.55 496.55L106.99 493.71L107.56 494.27L108.13 492.23L108.7 492.26L109.27 491.86L109.78 489.85L110.28 486.35L110.79 484.04L111.3 481.59L111.86 477.42L112.43 473.06L112.97 473.62L113.5 473.14L114.03 472.88L114.56 471.14L115.09 470.85L115.57 469.79L116.04 467.89L116.52 464.95L116.99 462.93L117.47 459.71L117.95 458.15L118.43 456.83L118.91 454.43L119.39 452.26L119.92 450.85L120.45 448.02L120.98 446.18L121.5 444.66L122.03 443.68L122.56 442.35L123.04 440.86L123.52 438.57L124 436.52L124.48 434.79L124.96 432.35L125.41 430.76L125.85 428.15L126.29 427.67L126.73 424.99L127.24 423.59L127.75 420.56L128.25 417.41L128.76 414.55L129.26 412.2L129.79 411.77L130.31 410.8L130.84 408.73L131.36 407.58L131.89 407.27L132.41 406.29L132.93 404.88L133.47 402.45L134 400.95L134.53 397.79L135.06 396.14L135.59 394.26L136.1 394L136.6 392.35L137.11 391.65L137.62 389.85L138.12 388.33L138.63 387.25L139.14 387.35L139.64 385.81L140.13 383.75L140.61 381.88L141.1 381.31L141.58 380.22L142.07 378.41L142.55 376.75L143.09 375.14L143.63 373.26L144.17 369.77L144.7 367.13L145.17 366.45L145.63 365.4L146.1 364.65L146.56 362.63L147.02 362.45L147.49 361.16L147.95 360.29L148.42 359.31L148.88 360.14L149.34 358.55L149.81 358.94L150.27 357.47L150.71 355.38L151.16 354.22L151.68 352.86L152.2 353.41L152.72 352.07L153.25 350.98L153.77 350.48L154.29 350.24L154.81 350.1L155.33 350.01L155.78 347.24L156.22 346.24L156.74 345.58L157.27 346.53L157.79 344.76L158.32 344.26L158.84 343.92L159.36 344.14L159.89 344.65L160.43 343.69L160.96 343.4L161.5 343.12L162.04 342.84L162.58 342.56L163.12 342.27L163.65 341.99L164.19 341.71L164.72 341.67L165.24 341.63L165.76 341.59L166.29 341.55L166.81 341.51L167.34 341.47L167.86 341.42L168.39 341.38L168.91 341.34L169.43 341.3L169.96 341.26L170.48 341.22L171.01 341.18L171.53 341.14L172.02 341.05L172.5 340.95L172.99 340.86L173.47 340.76L173.96 340.67L174.44 340.58L174.93 340.48L175.41 340.39L175.9 340.29L176.38 340.2L176.87 340.1L177.35 340.01L177.86 339.98L178.38 339.95L178.89 339.93L179.4 339.9L179.91 339.87L180.43 339.84L180.94 339.81L181.45 339.78L181.96 339.76L182.48 339.73L182.99 339.7L183.5 339.67L184.01 339.64L184.53 339.61L185.04 339.59L185.55 339.56L186.06 339.53L186.58 339.5L187.09 339.47L187.6 339.44L188.11 339.43L188.61 339.41L189.12 339.4L189.63 339.38L190.13 339.37L190.64 339.35L191.15 339.33L191.65 339.32L192.16 339.3L192.66 339.29L193.17 339.27L193.68 339.26L194.18 339.24L194.69 339.22L195.19 339.21L195.7 339.19L196.21 339.18L196.71 339.16L197.22 339.15L197.73 339.13L198.23 339.11L198.74 339.1L199.24 339.08L199.75 339.07L200.26 339.05L200.76 339.04L201.27 339.02L201.78 339L202.28 338.99L202.79 338.97L203.29 338.99L203.79 339.01L204.29 339.02L204.79 339.04L205.3 339.05L205.8 339.07L206.3 339.09L206.8 339.1L207.3 339.12L207.81 339.14L208.31 339.15L208.81 339.17L209.31 339.18L209.81 339.2L210.31 339.22L210.82 339.23L211.32 339.25L211.82 339.27L212.32 339.28L212.82 339.3L213.33 339.31L213.83 339.33L214.33 339.35L214.83 339.36L215.33 339.38L215.83 339.4L216.34 339.41L216.84 339.43L217.34 339.44L217.84 339.43L218.34 339.42L218.85 339.42L219.35 339.41L219.85 339.4L220.35 339.39L220.85 339.38L221.35 339.37L221.86 339.36L222.36 339.35L222.86 339.34L223.36 339.33L223.86 339.32L224.37 339.31L224.87 339.3L225.37 339.29L225.87 339.28L226.37 339.27L226.87 339.26L227.38 339.25L227.88 339.24L228.38 339.23L228.88 339.22L229.38 339.21L229.89 339.2L230.39 339.19L230.89 339.18L231.39 339.17L231.89 339.16L232.39 339.15L232.9 339.14L233.4 339.13L233.9 339.12L234.4 339.11L234.9 339.1L235.41 339.09L235.91 339.08L236.41 339.07L236.91 339.06L237.41 339.05L237.91 339.04L238.42 339.03L238.92 339.03L239.42 339.02L239.92 339.01L240.42 339L240.93 338.99L241.43 338.98L241.93 338.97L242.43 338.96L242.93 338.95L243.43 338.94L243.94 338.93L244.44 338.92L244.94 338.91L245.44 338.9L245.94 338.89L246.45 338.88L246.93 338.9L247.42 338.93L247.9 338.95L248.39 338.97L248.87 339L249.36 339.02L249.84 339.04L250.33 339.07L250.81 339.09L251.3 339.11L251.78 339.14L252.27 339.16L252.77 339.16L253.28 339.15L253.78 339.14L254.28 339.14L254.79 339.13L255.29 339.12L255.8 339.12L256.3 339.11L256.81 339.1L257.31 339.1L257.82 339.09L258.32 339.09L258.83 339.08L259.33 339.07L259.83 339.07L260.34 339.06L260.84 339.05L261.35 339.05L261.85 339.04L262.36 339.04L262.86 339.03L263.37 339.02L263.87 339.02L264.37 339.01L264.88 339L265.38 339L265.89 338.99L266.39 338.99L266.9 338.98L267.4 338.97L267.91 338.97L268.41 338.96L268.92 338.95L269.42 338.95L269.92 338.94L270.43 338.94L270.93 338.93L271.44 338.92L271.94 338.92L272.45 338.91L272.95 338.9L273.46 338.9L273.96 338.89L274.46 338.88L274.97 338.88L275.47 338.87L275.98 338.87L276.48 338.86L276.99 338.85L277.49 338.85L278 338.84L278.5 338.83L279.01 338.83L279.51 338.82L280.01 338.82L280.52 338.81L281.02 338.8L281.53 338.8L282.03 338.79L282.54 338.78L283.04 338.78L283.55 338.77L284.05 338.77L284.55 338.76L285.06 338.75L285.56 338.75L286.07 338.74L286.57 338.73L287.08 338.73L287.58 338.72L288.09 338.72L288.59 338.71L289.1 338.7L289.6 338.7L290.1 338.69L290.61 338.7L291.12 338.71L291.63 338.73L292.14 338.74L292.65 338.75L293.16 338.76L293.67 338.78L294.18 338.79L294.69 338.8L295.2 338.81L295.71 338.83L296.22 338.84L296.73 338.85L297.24 338.86L297.75 338.88L298.26 338.89L298.77 338.9L299.28 338.91L299.78 338.93L300.29 338.94L300.8 338.95L301.31 338.96L301.82 338.98L302.33 338.99L302.84 339L303.35 339.01L303.86 339.03L304.37 339.04L304.88 339.05L305.39 339.06L305.9 339.07L306.41 339.09L306.92 339.1L307.43 339.11L307.94 339.12L308.45 339.14L308.96 339.15L309.47 339.16"/>
<path class="tk" d="M56.37 531.43v3.5M119.65 531.43v3.5M182.92 531.43v3.5M246.19 531.43v3.5M309.47 531.43v3.5M43.72 522h-3.5M43.72 484.28h-3.5M43.72 446.56h-3.5M43.72 408.85h-3.5M43.72 371.13h-3.5M43.72 333.41h-3.5"/>
<rect class="fr" x="43.5" y="323.55" width="278.95" height="207.8"/>
<g class="t10" text-anchor="middle">
<text x="56.37" y="547">0</text>
<text x="119.65" y="547">500</text>
<text x="182.92" y="547">1000</text>
<text x="246.19" y="547">1500</text>
<text x="309.47" y="547">2000</text>
<text x="182.92" y="561">Iteration</text>
</g>
<g class="t10 yt" text-anchor="end">
<text x="36.02" y="526">0</text>
<text x="36.02" y="489">20</text>
<text x="36.02" y="451">40</text>
<text x="36.02" y="413">60</text>
<text x="36.02" y="375">80</text>
<text x="36.02" y="338">100</text>
</g>
<text class="t10" text-anchor="middle" transform="translate(9.52 428.51) rotate(-90)">Percentage</text>
<text class="t12" text-anchor="middle" x="182.92" y="317.78">F6</text>
<rect class="lg" x="208.7" y="410.91" width="108.3" height="33.2" rx="2" ry="2"/>
<path class="ln b" d="M213.22 419.46h20.6"/>
<path class="ln r" d="M213.22 434.26h20.6"/>
<text class="t10 lt" x="242.42" y="424">Exploration</text>
<text class="t10 lt" x="242.42" y="439">Exploitation</text>
</g>
<g class="ax">
<path class="ln b" d="M416.4 410.17L416.91 413.84L417.42 417.52L417.99 412.44L418.56 408.26L419.1 404.04L419.65 400.38L420.2 397.63L420.58 392.31L420.96 385.48L421.44 383.53L421.92 382.48L422.4 379.15L422.88 377.37L423.36 375.11L423.81 371.98L424.25 369.05L424.88 371.78L425.52 373.76L425.99 371.24L426.46 367.81L426.94 366.82L427.41 362.98L427.96 362.13L428.51 359.74L429.06 356.81L429.69 353.61L430.32 351.06L430.96 357.37L431.46 354.01L431.97 351.54L432.48 347.97L432.98 346.57L433.53 343.38L434.08 339.59L434.63 338.17L435.18 336.7L435.72 335.74L436.27 334.92L436.78 334.42L437.28 333.91L437.79 333.41L438.34 336.05L438.89 338.16L439.44 340.88L439.94 341.31L440.45 340.52L440.95 339.67L441.46 337.41L441.97 337.55L442.47 336.14L442.98 335.15L443.49 334.16L443.97 335.26L444.45 335.93L444.93 336.77L445.41 338.81L445.89 340.02L446.4 338.1L446.9 337.93L447.41 337.77L447.89 337.15L448.37 337.98L448.85 338.2L449.33 338.82L449.81 337.69L450.45 336.76L451.08 336.58L451.65 338.31L452.22 342.14L452.77 342.28L453.31 342.38L453.86 342.06L454.41 345.27L454.96 349.44L455.51 352.88L456.01 357.01L456.52 361.33L457.06 360.22L457.6 361.1L458.13 359.68L458.67 359.41L459.18 360.63L459.68 362.08L460.19 363.73L460.7 365.57L461.26 371.25L461.83 376.83L462.32 378.04L462.8 381.16L463.28 382.88L463.76 383.86L464.24 386.64L464.72 388.24L465.2 389.57L465.68 389.97L466.16 391.64L466.64 391.81L467.12 393.41L467.6 394.67L468.09 397.33L468.57 399.07L469.05 400.48L469.53 400.59L470.01 401.02L470.49 402.26L470.97 403.41L471.45 403.9L472 406.76L472.55 409.87L473.1 412.95L473.65 415.99L474.19 419.51L474.74 423.63L475.18 425.24L475.63 429L476.26 433.15L476.89 438.1L477.38 438.9L477.86 441.23L478.35 442.56L478.83 443.98L479.32 445.55L479.8 445.72L480.33 448.37L480.85 450.93L481.38 452.94L481.9 454.05L482.43 457L482.95 459.6L483.47 460.75L483.95 461.99L484.44 462.4L484.92 464.89L485.4 465.24L485.88 465.64L486.36 466.58L486.84 467.44L487.32 469.9L487.8 470.45L488.28 471.73L488.76 472.98L489.23 473.01L489.71 475.04L490.18 475.82L490.66 478.13L491.13 478.66L491.6 480.74L492.08 482.43L492.61 483.28L493.13 484.72L493.66 487.87L494.19 488.77L494.72 490.46L495.24 492.87L495.78 493.53L496.32 494.84L496.86 495.65L497.39 496.49L497.93 496.82L498.47 497.65L499.01 499.33L499.54 500.58L500.08 500.77L500.62 500.91L501.16 502.47L501.7 502.99L502.23 503.9L502.77 503.63L503.31 504.78L503.85 506.33L504.37 506.89L504.89 507.02L505.4 507.37L505.92 507.85L506.44 509.4L506.96 509.9L507.48 509.62L508 510.72L508.52 511.56L509.04 512.14L509.52 511.44L510.01 512.92L510.49 512.88L510.98 513.63L511.46 513.92L511.95 513.56L512.43 513.72L512.92 515.19L513.4 515.87L513.89 515.36L514.37 516.64L514.86 517.37L515.34 516.11L515.83 517.18L516.31 516.77L516.8 517.73L517.28 517.18L517.77 518.09L518.25 518.35L518.74 518.61L519.22 518.87L519.71 519.12L520.19 519.38L520.68 519.64L521.17 519.79L521.66 519.94L522.15 520.08L522.65 520.23L523.14 520.38L523.63 520.52L524.12 520.67L524.61 520.82L525.11 520.96L525.59 521L526.08 521.04L526.56 521.08L527.05 521.12L527.53 521.16L528.02 521.2L528.5 521.24L528.99 521.28L529.47 521.32L529.96 521.36L530.44 521.4L530.93 521.43L531.43 521.43L531.94 521.43L532.45 521.43L532.95 521.43L533.46 521.43L533.96 521.43L534.47 521.43L534.97 521.43L535.48 521.43L535.99 521.43L536.49 521.43L537 521.43L537.5 521.43L538.01 521.43L538.51 521.43L539.02 521.43L539.53 521.43L540.03 521.43L540.54 521.43L541.04 521.43L541.55 521.43L542.05 521.43L542.56 521.43L543.07 521.43L543.57 521.43L544.08 521.43L544.58 521.43L545.09 521.43L545.59 521.43L546.1 521.43L546.61 521.43L547.11 521.43L547.62 521.43L548.12 521.43L548.63 521.43L549.13 521.43L549.64 521.43L550.15 521.43L550.65 521.43L551.16 521.43L551.66 521.43L552.17 521.43L552.67 521.43L553.18 521.43L553.69 521.43L554.19 521.43L554.7 521.43L555.2 521.43L555.71 521.43L556.21 521.43L556.72 521.43L557.23 521.43L557.73 521.43L558.24 521.43L558.74 521.43L559.25 521.43L559.75 521.43L560.26 521.43L560.77 521.43L561.27 521.43L561.78 521.43L562.28 521.43L562.79 521.43L563.29 521.43L563.8 521.43L564.31 521.43L564.81 521.43L565.32 521.43L565.82 521.43L566.33 521.43L566.83 521.43L567.34 521.43L567.85 521.43L568.35 521.43L568.86 521.43L569.36 521.43L569.87 521.43L570.37 521.43L570.88 521.43L571.39 521.43L571.89 521.43L572.4 521.43L572.9 521.43L573.41 521.43L573.91 521.43L574.42 521.43L574.93 521.43L575.43 521.43L575.94 521.43L576.44 521.43L576.95 521.43L577.45 521.43L577.96 521.43L578.47 521.43L578.97 521.43L579.48 521.43L579.98 521.43L580.49 521.43L580.99 521.43L581.5 521.43L582.01 521.43L582.51 521.43L583.02 521.43L583.52 521.43L584.03 521.43L584.53 521.43L585.04 521.43L585.55 521.43L586.05 521.43L586.56 521.43L587.06 521.43L587.57 521.43L588.07 521.43L588.58 521.43L589.09 521.43L589.59 521.43L590.1 521.43L590.6 521.43L591.11 521.43L591.61 521.43L592.12 521.43L592.63 521.43L593.13 521.43L593.64 521.43L594.14 521.43L594.65 521.43L595.15 521.43L595.66 521.43L596.17 521.43L596.67 521.43L597.18 521.43L597.68 521.43L598.19 521.43L598.69 521.43L599.2 521.43L599.71 521.43L600.21 521.43L600.72 521.43L601.22 521.43L601.73 521.43L602.23 521.43L602.74 521.43L603.25 521.43L603.75 521.43L604.26 521.43L604.76 521.43L605.27 521.43L605.77 521.43L606.28 521.43L606.79 521.43L607.29 521.43L607.8 521.43L608.3 521.43L608.81 521.43L609.31 521.43L609.82 521.43L610.33 521.43L610.83 521.43L611.34 521.43L611.84 521.43L612.35 521.43L612.85 521.43L613.36 521.43L613.87 521.43L614.37 521.43L614.88 521.43L615.38 521.43L615.89 521.43L616.39 521.43L616.9 521.43L617.41 521.43L617.91 521.43L618.42 521.43L618.92 521.43L619.43 521.43L619.93 521.43L620.44 521.43L620.95 521.43L621.45 521.43L621.96 521.43L622.46 521.43L622.97 521.43L623.47 521.43L623.98 521.43L624.49 521.43L624.99 521.43L625.5 521.43L626 521.43L626.51 521.43L627.01 521.43L627.52 521.43L628.03 521.43L628.53 521.43L629.04 521.43L629.54 521.43L630.05 521.43L630.56 521.43L631.06 521.43L631.57 521.43L632.07 521.43L632.58 521.43L633.08 521.43L633.59 521.43L634.1 521.43L634.6 521.43L635.11 521.43L635.61 521.43L636.12 521.43L636.62 521.43L637.13 521.43L637.64 521.43L638.14 521.43L638.65 521.43L639.15 521.43L639.66 521.43L640.16 521.43L640.67 521.43L641.18 521.43L641.68 521.43L642.19 521.43L642.69 521.43L643.2 521.43L643.7 521.43L644.21 521.43L644.72 521.43L645.22 521.43L645.73 521.43L646.23 521.43L646.74 521.43L647.24 521.43L647.75 521.43L648.26 521.43L648.76 521.43L649.27 521.43L649.77 521.43L650.28 521.43L650.78 521.43L651.29 521.43L651.8 521.43L652.3 521.43L652.81 521.43L653.31 521.43L653.82 521.43L654.32 521.43L654.83 521.43L655.34 521.43L655.84 521.43L656.35 521.43L656.85 521.43L657.36 521.43L657.86 521.43L658.37 521.43L658.88 521.43L659.38 521.43L659.89 521.43L660.39 521.43L660.9 521.43L661.4 521.43L661.91 521.43L662.42 521.43L662.92 521.43L663.43 521.43L663.93 521.43L664.44 521.43L664.94 521.43L665.45 521.43L665.96 521.43L666.46 521.43L666.97 521.43L667.47 521.43L667.98 521.43L668.48 521.43L668.99 521.43L669.5 521.43"/>
<path class="ln r" d="M416.4 445.24L416.91 441.57L417.42 437.89L417.99 442.97L418.56 447.15L419.1 451.37L419.65 455.03L420.2 457.78L420.58 463.1L420.96 469.93L421.44 471.88L421.92 472.93L422.4 476.26L422.88 478.04L423.36 480.3L423.81 483.43L424.25 486.36L424.88 483.63L425.52 481.65L425.99 484.17L426.46 487.6L426.94 488.59L427.41 492.43L427.96 493.28L428.51 495.67L429.06 498.6L429.69 501.8L430.32 504.35L430.96 498.04L431.46 501.4L431.97 503.87L432.48 507.44L432.98 508.84L433.53 512.03L434.08 515.82L434.63 517.24L435.18 518.71L435.72 519.67L436.27 520.49L436.78 520.99L437.28 521.5L437.79 522L438.34 519.36L438.89 517.25L439.44 514.53L439.94 514.1L440.45 514.89L440.95 515.74L441.46 518L441.97 517.86L442.47 519.27L442.98 520.26L443.49 521.25L443.97 520.15L444.45 519.48L444.93 518.64L445.41 516.6L445.89 515.39L446.4 517.31L446.9 517.48L447.41 517.64L447.89 518.26L448.37 517.43L448.85 517.21L449.33 516.59L449.81 517.72L450.45 518.65L451.08 518.83L451.65 517.1L452.22 513.27L452.77 513.13L453.31 513.03L453.86 513.35L454.41 510.14L454.96 505.97L455.51 502.53L456.01 498.4L456.52 494.08L457.06 495.19L457.6 494.31L458.13 495.73L458.67 496L459.18 494.78L459.68 493.33L460.19 491.68L460.7 489.84L461.26 484.16L461.83 478.58L462.32 477.37L462.8 474.25L463.28 472.53L463.76 471.55L464.24 468.77L464.72 467.17L465.2 465.84L465.68 465.44L466.16 463.77L466.64 463.6L467.12 462L467.6 460.74L468.09 458.08L468.57 456.34L469.05 454.93L469.53 454.82L470.01 454.39L470.49 453.15L470.97 452L471.45 451.51L472 448.65L472.55 445.54L473.1 442.46L473.65 439.42L474.19 435.9L474.74 431.78L475.18 430.17L475.63 426.41L476.26 422.26L476.89 417.31L477.38 416.51L477.86 414.18L478.35 412.85L478.83 411.43L479.32 409.86L479.8 409.69L480.33 407.04L480.85 404.48L481.38 402.47L481.9 401.36L482.43 398.41L482.95 395.81L483.47 394.66L483.95 393.42L484.44 393.01L484.92 390.52L485.4 390.17L485.88 389.77L486.36 388.83L486.84 387.97L487.32 385.51L487.8 384.96L488.28 383.68L488.76 382.43L489.23 382.4L489.71 380.37L490.18 379.59L490.66 377.28L491.13 376.75L491.6 374.67L492.08 372.98L492.61 372.13L493.13 370.69L493.66 367.54L494.19 366.64L494.72 364.95L495.24 362.54L495.78 361.88L496.32 360.57L496.86 359.76L497.39 358.92L497.93 358.59L498.47 357.76L499.01 356.08L499.54 354.83L500.08 354.64L500.62 354.5L501.16 352.94L501.7 352.42L502.23 351.51L502.77 351.78L503.31 350.63L503.85 349.08L504.37 348.52L504.89 348.39L505.4 348.04L505.92 347.56L506.44 346.01L506.96 345.51L507.48 345.79L508 344.69L508.52 343.85L509.04 343.27L509.52 343.97L510.01 342.49L510.49 342.53L510.98 341.78L511.46 341.49L511.95 341.85L512.43 341.69L512.92 340.22L513.4 339.54L513.89 340.05L514.37 338.77L514.86 338.04L515.34 339.3L515.83 338.23L516.31 338.64L516.8 337.68L517.28 338.23L517.77 337.32L518.25 337.06L518.74 336.8L519.22 336.54L519.71 336.29L520.19 336.03L520.68 335.77L521.17 335.62L521.66 335.47L522.15 335.33L522.65 335.18L523.14 335.03L523.63 334.89L524.12 334.74L524.61 334.59L525.11 334.45L525.59 334.41L526.08 334.37L526.56 334.33L527.05 334.29L527.53 334.25L528.02 334.21L528.5 334.17L528.99 334.13L529.47 334.09L529.96 334.05L530.44 334.01L530.93 333.98L531.43 333.98L531.94 333.98L532.45 333.98L532.95 333.98L533.46 333.98L533.96 333.98L534.47 333.98L534.97 333.98L535.48 333.98L535.99 333.98L536.49 333.98L537 333.98L537.5 333.98L538.01 333.98L538.51 333.98L539.02 333.98L539.53 333.98L540.03 333.98L540.54 333.98L541.04 333.98L541.55 333.98L542.05 333.98L542.56 333.98L543.07 333.98L543.57 333.98L544.08 333.98L544.58 333.98L545.09 333.98L545.59 333.98L546.1 333.98L546.61 333.98L547.11 333.98L547.62 333.98L548.12 333.98L548.63 333.98L549.13 333.98L549.64 333.98L550.15 333.98L550.65 333.98L551.16 333.98L551.66 333.98L552.17 333.98L552.67 333.98L553.18 333.98L553.69 333.98L554.19 333.98L554.7 333.98L555.2 333.98L555.71 333.98L556.21 333.98L556.72 333.98L557.23 333.98L557.73 333.98L558.24 333.98L558.74 333.98L559.25 333.98L559.75 333.98L560.26 333.98L560.77 333.98L561.27 333.98L561.78 333.98L562.28 333.98L562.79 333.98L563.29 333.98L563.8 333.98L564.31 333.98L564.81 333.98L565.32 333.98L565.82 333.98L566.33 333.98L566.83 333.98L567.34 333.98L567.85 333.98L568.35 333.98L568.86 333.98L569.36 333.98L569.87 333.98L570.37 333.98L570.88 333.98L571.39 333.98L571.89 333.98L572.4 333.98L572.9 333.98L573.41 333.98L573.91 333.98L574.42 333.98L574.93 333.98L575.43 333.98L575.94 333.98L576.44 333.98L576.95 333.98L577.45 333.98L577.96 333.98L578.47 333.98L578.97 333.98L579.48 333.98L579.98 333.98L580.49 333.98L580.99 333.98L581.5 333.98L582.01 333.98L582.51 333.98L583.02 333.98L583.52 333.98L584.03 333.98L584.53 333.98L585.04 333.98L585.55 333.98L586.05 333.98L586.56 333.98L587.06 333.98L587.57 333.98L588.07 333.98L588.58 333.98L589.09 333.98L589.59 333.98L590.1 333.98L590.6 333.98L591.11 333.98L591.61 333.98L592.12 333.98L592.63 333.98L593.13 333.98L593.64 333.98L594.14 333.98L594.65 333.98L595.15 333.98L595.66 333.98L596.17 333.98L596.67 333.98L597.18 333.98L597.68 333.98L598.19 333.98L598.69 333.98L599.2 333.98L599.71 333.98L600.21 333.98L600.72 333.98L601.22 333.98L601.73 333.98L602.23 333.98L602.74 333.98L603.25 333.98L603.75 333.98L604.26 333.98L604.76 333.98L605.27 333.98L605.77 333.98L606.28 333.98L606.79 333.98L607.29 333.98L607.8 333.98L608.3 333.98L608.81 333.98L609.31 333.98L609.82 333.98L610.33 333.98L610.83 333.98L611.34 333.98L611.84 333.98L612.35 333.98L612.85 333.98L613.36 333.98L613.87 333.98L614.37 333.98L614.88 333.98L615.38 333.98L615.89 333.98L616.39 333.98L616.9 333.98L617.41 333.98L617.91 333.98L618.42 333.98L618.92 333.98L619.43 333.98L619.93 333.98L620.44 333.98L620.95 333.98L621.45 333.98L621.96 333.98L622.46 333.98L622.97 333.98L623.47 333.98L623.98 333.98L624.49 333.98L624.99 333.98L625.5 333.98L626 333.98L626.51 333.98L627.01 333.98L627.52 333.98L628.03 333.98L628.53 333.98L629.04 333.98L629.54 333.98L630.05 333.98L630.56 333.98L631.06 333.98L631.57 333.98L632.07 333.98L632.58 333.98L633.08 333.98L633.59 333.98L634.1 333.98L634.6 333.98L635.11 333.98L635.61 333.98L636.12 333.98L636.62 333.98L637.13 333.98L637.64 333.98L638.14 333.98L638.65 333.98L639.15 333.98L639.66 333.98L640.16 333.98L640.67 333.98L641.18 333.98L641.68 333.98L642.19 333.98L642.69 333.98L643.2 333.98L643.7 333.98L644.21 333.98L644.72 333.98L645.22 333.98L645.73 333.98L646.23 333.98L646.74 333.98L647.24 333.98L647.75 333.98L648.26 333.98L648.76 333.98L649.27 333.98L649.77 333.98L650.28 333.98L650.78 333.98L651.29 333.98L651.8 333.98L652.3 333.98L652.81 333.98L653.31 333.98L653.82 333.98L654.32 333.98L654.83 333.98L655.34 333.98L655.84 333.98L656.35 333.98L656.85 333.98L657.36 333.98L657.86 333.98L658.37 333.98L658.88 333.98L659.38 333.98L659.89 333.98L660.39 333.98L660.9 333.98L661.4 333.98L661.91 333.98L662.42 333.98L662.92 333.98L663.43 333.98L663.93 333.98L664.44 333.98L664.94 333.98L665.45 333.98L665.96 333.98L666.46 333.98L666.97 333.98L667.47 333.98L667.98 333.98L668.48 333.98L668.99 333.98L669.5 333.98"/>
<path class="tk" d="M416.4 531.43v3.5M479.68 531.43v3.5M542.95 531.43v3.5M606.22 531.43v3.5M669.5 531.43v3.5M403.75 522h-3.5M403.75 484.28h-3.5M403.75 446.56h-3.5M403.75 408.85h-3.5M403.75 371.13h-3.5M403.75 333.41h-3.5"/>
<rect class="fr" x="403.9" y="323.55" width="278.65" height="207.8"/>
<g class="t10" text-anchor="middle">
<text x="416.4" y="547">0</text>
<text x="479.68" y="547">500</text>
<text x="542.95" y="547">1000</text>
<text x="606.22" y="547">1500</text>
<text x="669.5" y="547">2000</text>
<text x="542.95" y="561">Iteration</text>
</g>
<g class="t10 yt" text-anchor="end">
<text x="396.05" y="526">0</text>
<text x="396.05" y="489">20</text>
<text x="396.05" y="451">40</text>
<text x="396.05" y="413">60</text>
<text x="396.05" y="375">80</text>
<text x="396.05" y="338">100</text>
</g>
<text class="t10" text-anchor="middle" transform="translate(369.55 428.51) rotate(-90)">Percentage</text>
<text class="t12" text-anchor="middle" x="542.95" y="317.78">F7</text>
<rect class="lg" x="569.2" y="410.91" width="108.3" height="33.2" rx="2" ry="2"/>
<path class="ln b" d="M573.25 419.46h20.6"/>
<path class="ln r" d="M573.25 434.26h20.6"/>
<text class="t10 lt" x="602.45" y="424">Exploration</text>
<text class="t10 lt" x="602.45" y="439">Exploitation</text>
</g>
<g class="ax">
<path class="ln b" d="M56.37 616.44L56.63 695.74L57.01 716.51L57.39 733.51L57.89 745.78L58.4 758.05L58.91 765.14L59.41 772.22L59.92 775.36L60.42 778.51L60.93 781.66L61.44 783.69L61.94 785.72L62.45 787.75L62.95 789.78L63.46 790.32L63.97 790.87L64.47 791.41L64.98 791.96L65.49 792.5L65.99 793.05L66.5 793.59L67 794.14L67.51 794.69L68.03 794.72L68.54 794.75L69.06 794.78L69.58 794.81L70.09 794.84L70.61 794.87L71.13 794.91L71.64 794.94L72.16 794.97L72.68 795L73.19 795.03L73.71 795.06L74.22 795.39L74.72 795.72L75.23 796.05L75.74 796.38L76.24 796.72L76.75 797.05L77.25 797.38L77.76 797.71L78.27 797.91L78.77 798.12L79.28 798.33L79.79 798.54L80.29 798.74L80.8 798.95L81.3 799.16L81.81 799.37L82.32 799.58L82.82 799.78L83.33 799.81L83.84 799.84L84.35 799.86L84.87 799.89L85.38 799.92L85.89 799.95L86.4 799.97L86.91 800L87.42 800.03L87.93 800.05L88.44 800.08L88.95 800.11L89.46 800.13L89.97 800.16L90.48 800.19L90.99 800.21L91.5 800.24L92.02 800.27L92.53 800.3L93.04 800.32L93.55 800.35L94.06 800.38L94.57 800.4L95.08 800.43L95.59 800.46L96.1 800.48L96.61 800.51L97.12 800.54L97.63 800.57L98.14 800.6L98.65 800.62L99.16 800.65L99.67 800.68L100.18 800.71L100.69 800.74L101.2 800.77L101.71 800.79L102.22 800.82L102.72 800.85L103.23 800.88L103.74 800.91L104.25 800.94L104.76 800.96L105.27 800.99L105.78 801.02L106.29 801.05L106.8 801.08L107.31 801.11L107.82 801.13L108.33 801.16L108.84 801.19L109.35 801.22L109.86 801.25L110.37 801.28L110.87 801.3L111.38 801.33L111.89 801.36L112.4 801.39L112.91 801.42L113.42 801.44L113.93 801.47L114.44 801.5L114.95 801.53L115.46 801.56L115.97 801.59L116.48 801.61L116.99 801.64L117.5 801.67L118.01 801.75L118.52 801.84L119.04 801.92L119.55 802L120.07 802.08L120.58 802.17L121.09 802.25L121.61 802.33L122.12 802.42L122.64 802.5L123.15 802.58L123.67 802.66L124.18 802.75L124.69 802.83L125.21 802.91L125.72 802.99L126.23 803.05L126.74 803.1L127.25 803.16L127.76 803.21L128.27 803.26L128.79 803.32L129.3 803.37L129.81 803.42L130.32 803.48L130.83 803.53L131.34 803.59L131.85 803.64L132.36 803.69L132.87 803.75L133.38 803.8L133.89 803.86L134.4 803.91L134.91 803.96L135.42 804.02L135.94 804.07L136.45 804.13L136.96 804.18L137.47 804.23L137.98 804.29L138.49 804.34L139 804.4L139.51 804.45L140.02 804.5L140.53 804.52L141.04 804.54L141.55 804.56L142.06 804.58L142.57 804.6L143.09 804.63L143.6 804.65L144.11 804.67L144.62 804.69L145.13 804.71L145.64 804.73L146.15 804.75L146.66 804.77L147.17 804.79L147.68 804.81L148.19 804.83L148.7 804.85L149.21 804.87L149.72 804.89L150.24 804.91L150.75 804.93L151.26 804.95L151.77 804.97L152.28 804.99L152.79 805.01L153.3 805.03L153.81 805.05L154.32 805.07L154.83 805.07L155.33 805.07L155.84 805.07L156.35 805.07L156.86 805.07L157.36 805.07L157.87 805.07L158.38 805.08L158.88 805.08L159.39 805.08L159.9 805.08L160.4 805.08L160.91 805.08L161.42 805.08L161.93 805.08L162.43 805.08L162.94 805.08L163.45 805.08L163.95 805.08L164.46 805.08L164.97 805.08L165.47 805.08L165.98 805.08L166.49 805.09L167 805.09L167.5 805.09L168.01 805.09L168.52 805.09L169.02 805.09L169.53 805.09L170.04 805.09L170.55 805.09L171.05 805.09L171.56 805.09L172.07 805.09L172.57 805.09L173.08 805.09L173.59 805.09L174.09 805.09L174.6 805.09L175.11 805.1L175.62 805.1L176.12 805.1L176.63 805.1L177.14 805.1L177.64 805.1L178.15 805.1L178.66 805.1L179.16 805.1L179.67 805.1L180.18 805.1L180.69 805.1L181.19 805.1L181.7 805.1L182.21 805.1L182.71 805.1L183.22 805.11L183.73 805.11L184.23 805.11L184.74 805.11L185.25 805.11L185.76 805.11L186.26 805.11L186.77 805.11L187.28 805.11L187.78 805.11L188.29 805.11L188.8 805.11L189.3 805.11L189.81 805.11L190.32 805.11L190.83 805.11L191.33 805.12L191.84 805.12L192.35 805.12L192.85 805.12L193.36 805.12L193.87 805.12L194.37 805.12L194.88 805.12L195.39 805.12L195.9 805.12L196.4 805.12L196.91 805.12L197.42 805.12L197.92 805.12L198.43 805.12L198.94 805.12L199.44 805.13L199.95 805.13L200.46 805.13L200.97 805.13L201.47 805.13L201.98 805.13L202.49 805.13L202.99 805.13L203.5 805.13L204.01 805.13L204.51 805.13L205.02 805.13L205.53 805.13L206.04 805.13L206.54 805.13L207.05 805.13L207.56 805.14L208.06 805.14L208.57 805.14L209.08 805.14L209.58 805.14L210.09 805.14L210.6 805.14L211.11 805.14L211.61 805.14L212.12 805.14L212.63 805.14L213.13 805.14L213.64 805.14L214.15 805.14L214.65 805.14L215.16 805.14L215.67 805.14L216.18 805.15L216.68 805.15L217.19 805.15L217.7 805.15L218.2 805.15L218.71 805.15L219.22 805.15L219.72 805.15L220.23 805.15L220.74 805.15L221.25 805.15L221.75 805.15L222.26 805.15L222.77 805.15L223.27 805.15L223.78 805.15L224.29 805.16L224.79 805.16L225.3 805.16L225.81 805.16L226.32 805.16L226.82 805.16L227.33 805.16L227.84 805.16L228.34 805.16L228.85 805.16L229.36 805.16L229.87 805.16L230.37 805.16L230.88 805.16L231.39 805.16L231.89 805.16L232.4 805.17L232.91 805.17L233.41 805.17L233.92 805.17L234.43 805.17L234.94 805.17L235.44 805.17L235.95 805.17L236.46 805.17L236.96 805.17L237.47 805.17L237.98 805.17L238.48 805.17L238.99 805.17L239.5 805.17L240.01 805.17L240.51 805.18L241.02 805.18L241.53 805.18L242.03 805.18L242.54 805.18L243.05 805.18L243.55 805.18L244.06 805.18L244.57 805.18L245.08 805.18L245.58 805.18L246.09 805.18L246.6 805.18L247.1 805.18L247.61 805.18L248.12 805.18L248.62 805.19L249.13 805.19L249.64 805.19L250.15 805.19L250.65 805.19L251.16 805.19L251.67 805.19L252.17 805.19L252.68 805.19L253.19 805.19L253.69 805.19L254.2 805.19L254.71 805.19L255.22 805.19L255.72 805.19L256.23 805.19L256.74 805.19L257.24 805.2L257.75 805.2L258.26 805.2L258.76 805.2L259.27 805.2L259.78 805.2L260.29 805.2L260.79 805.2L261.3 805.2L261.81 805.2L262.31 805.2L262.82 805.2L263.33 805.2L263.83 805.2L264.34 805.2L264.85 805.2L265.36 805.21L265.86 805.21L266.37 805.21L266.88 805.21L267.38 805.21L267.89 805.21L268.4 805.21L268.9 805.21L269.41 805.21L269.92 805.21L270.43 805.21L270.93 805.21L271.44 805.21L271.95 805.21L272.45 805.21L272.96 805.21L273.47 805.22L273.97 805.22L274.48 805.22L274.99 805.22L275.5 805.22L276 805.22L276.51 805.22L277.02 805.22L277.52 805.22L278.03 805.22L278.54 805.22L279.04 805.22L279.55 805.22L280.06 805.22L280.57 805.22L281.07 805.22L281.58 805.23L282.09 805.23L282.59 805.23L283.1 805.23L283.61 805.23L284.12 805.23L284.62 805.23L285.13 805.23L285.64 805.23L286.14 805.23L286.65 805.23L287.16 805.23L287.66 805.23L288.17 805.23L288.68 805.23L289.19 805.23L289.69 805.24L290.2 805.24L290.71 805.24L291.21 805.24L291.72 805.24L292.23 805.24L292.73 805.24L293.24 805.24L293.75 805.24L294.26 805.24L294.76 805.24L295.27 805.24L295.78 805.24L296.28 805.24L296.79 805.24L297.3 805.24L297.8 805.24L298.31 805.25L298.82 805.25L299.33 805.25L299.83 805.25L300.34 805.25L300.85 805.25L301.35 805.25L301.86 805.25L302.37 805.25L302.87 805.25L303.38 805.25L303.89 805.25L304.4 805.25L304.9 805.25L305.41 805.25L305.92 805.25L306.42 805.26L306.93 805.26L307.44 805.26L307.94 805.26L308.45 805.26L308.96 805.26L309.47 805.26"/>
<path class="ln r" d="M56.37 805.26L56.63 725.96L57.01 705.19L57.39 688.19L57.89 675.92L58.4 663.65L58.91 656.56L59.41 649.48L59.92 646.34L60.42 643.19L60.93 640.04L61.44 638.01L61.94 635.98L62.45 633.95L62.95 631.92L63.46 631.38L63.97 630.83L64.47 630.29L64.98 629.74L65.49 629.2L65.99 628.65L66.5 628.11L67 627.56L67.51 627.01L68.03 626.98L68.54 626.95L69.06 626.92L69.58 626.89L70.09 626.86L70.61 626.83L71.13 626.79L71.64 626.76L72.16 626.73L72.68 626.7L73.19 626.67L73.71 626.64L74.22 626.31L74.72 625.98L75.23 625.65L75.74 625.32L76.24 624.98L76.75 624.65L77.25 624.32L77.76 623.99L78.27 623.79L78.77 623.58L79.28 623.37L79.79 623.16L80.29 622.96L80.8 622.75L81.3 622.54L81.81 622.33L82.32 622.12L82.82 621.92L83.33 621.89L83.84 621.86L84.35 621.84L84.87 621.81L85.38 621.78L85.89 621.75L86.4 621.73L86.91 621.7L87.42 621.67L87.93 621.65L88.44 621.62L88.95 621.59L89.46 621.57L89.97 621.54L90.48 621.51L90.99 621.49L91.5 621.46L92.02 621.43L92.53 621.4L93.04 621.38L93.55 621.35L94.06 621.32L94.57 621.3L95.08 621.27L95.59 621.24L96.1 621.22L96.61 621.19L97.12 621.16L97.63 621.13L98.14 621.1L98.65 621.08L99.16 621.05L99.67 621.02L100.18 620.99L100.69 620.96L101.2 620.93L101.71 620.91L102.22 620.88L102.72 620.85L103.23 620.82L103.74 620.79L104.25 620.76L104.76 620.74L105.27 620.71L105.78 620.68L106.29 620.65L106.8 620.62L107.31 620.59L107.82 620.57L108.33 620.54L108.84 620.51L109.35 620.48L109.86 620.45L110.37 620.42L110.87 620.4L111.38 620.37L111.89 620.34L112.4 620.31L112.91 620.28L113.42 620.26L113.93 620.23L114.44 620.2L114.95 620.17L115.46 620.14L115.97 620.11L116.48 620.09L116.99 620.06L117.5 620.03L118.01 619.95L118.52 619.86L119.04 619.78L119.55 619.7L120.07 619.62L120.58 619.53L121.09 619.45L121.61 619.37L122.12 619.28L122.64 619.2L123.15 619.12L123.67 619.04L124.18 618.95L124.69 618.87L125.21 618.79L125.72 618.71L126.23 618.65L126.74 618.6L127.25 618.54L127.76 618.49L128.27 618.44L128.79 618.38L129.3 618.33L129.81 618.28L130.32 618.22L130.83 618.17L131.34 618.11L131.85 618.06L132.36 618.01L132.87 617.95L133.38 617.9L133.89 617.84L134.4 617.79L134.91 617.74L135.42 617.68L135.94 617.63L136.45 617.57L136.96 617.52L137.47 617.47L137.98 617.41L138.49 617.36L139 617.3L139.51 617.25L140.02 617.2L140.53 617.18L141.04 617.16L141.55 617.14L142.06 617.12L142.57 617.1L143.09 617.07L143.6 617.05L144.11 617.03L144.62 617.01L145.13 616.99L145.64 616.97L146.15 616.95L146.66 616.93L147.17 616.91L147.68 616.89L148.19 616.87L148.7 616.85L149.21 616.83L149.72 616.81L150.24 616.79L150.75 616.77L151.26 616.75L151.77 616.73L152.28 616.71L152.79 616.69L153.3 616.67L153.81 616.65L154.32 616.63L154.83 616.63L155.33 616.63L155.84 616.63L156.35 616.63L156.86 616.63L157.36 616.63L157.87 616.63L158.38 616.62L158.88 616.62L159.39 616.62L159.9 616.62L160.4 616.62L160.91 616.62L161.42 616.62L161.93 616.62L162.43 616.62L162.94 616.62L163.45 616.62L163.95 616.62L164.46 616.62L164.97 616.62L165.47 616.62L165.98 616.62L166.49 616.61L167 616.61L167.5 616.61L168.01 616.61L168.52 616.61L169.02 616.61L169.53 616.61L170.04 616.61L170.55 616.61L171.05 616.61L171.56 616.61L172.07 616.61L172.57 616.61L173.08 616.61L173.59 616.61L174.09 616.61L174.6 616.61L175.11 616.6L175.62 616.6L176.12 616.6L176.63 616.6L177.14 616.6L177.64 616.6L178.15 616.6L178.66 616.6L179.16 616.6L179.67 616.6L180.18 616.6L180.69 616.6L181.19 616.6L181.7 616.6L182.21 616.6L182.71 616.6L183.22 616.59L183.73 616.59L184.23 616.59L184.74 616.59L185.25 616.59L185.76 616.59L186.26 616.59L186.77 616.59L187.28 616.59L187.78 616.59L188.29 616.59L188.8 616.59L189.3 616.59L189.81 616.59L190.32 616.59L190.83 616.59L191.33 616.58L191.84 616.58L192.35 616.58L192.85 616.58L193.36 616.58L193.87 616.58L194.37 616.58L194.88 616.58L195.39 616.58L195.9 616.58L196.4 616.58L196.91 616.58L197.42 616.58L197.92 616.58L198.43 616.58L198.94 616.58L199.44 616.57L199.95 616.57L200.46 616.57L200.97 616.57L201.47 616.57L201.98 616.57L202.49 616.57L202.99 616.57L203.5 616.57L204.01 616.57L204.51 616.57L205.02 616.57L205.53 616.57L206.04 616.57L206.54 616.57L207.05 616.57L207.56 616.56L208.06 616.56L208.57 616.56L209.08 616.56L209.58 616.56L210.09 616.56L210.6 616.56L211.11 616.56L211.61 616.56L212.12 616.56L212.63 616.56L213.13 616.56L213.64 616.56L214.15 616.56L214.65 616.56L215.16 616.56L215.67 616.56L216.18 616.55L216.68 616.55L217.19 616.55L217.7 616.55L218.2 616.55L218.71 616.55L219.22 616.55L219.72 616.55L220.23 616.55L220.74 616.55L221.25 616.55L221.75 616.55L222.26 616.55L222.77 616.55L223.27 616.55L223.78 616.55L224.29 616.54L224.79 616.54L225.3 616.54L225.81 616.54L226.32 616.54L226.82 616.54L227.33 616.54L227.84 616.54L228.34 616.54L228.85 616.54L229.36 616.54L229.87 616.54L230.37 616.54L230.88 616.54L231.39 616.54L231.89 616.54L232.4 616.53L232.91 616.53L233.41 616.53L233.92 616.53L234.43 616.53L234.94 616.53L235.44 616.53L235.95 616.53L236.46 616.53L236.96 616.53L237.47 616.53L237.98 616.53L238.48 616.53L238.99 616.53L239.5 616.53L240.01 616.53L240.51 616.52L241.02 616.52L241.53 616.52L242.03 616.52L242.54 616.52L243.05 616.52L243.55 616.52L244.06 616.52L244.57 616.52L245.08 616.52L245.58 616.52L246.09 616.52L246.6 616.52L247.1 616.52L247.61 616.52L248.12 616.52L248.62 616.51L249.13 616.51L249.64 616.51L250.15 616.51L250.65 616.51L251.16 616.51L251.67 616.51L252.17 616.51L252.68 616.51L253.19 616.51L253.69 616.51L254.2 616.51L254.71 616.51L255.22 616.51L255.72 616.51L256.23 616.51L256.74 616.51L257.24 616.5L257.75 616.5L258.26 616.5L258.76 616.5L259.27 616.5L259.78 616.5L260.29 616.5L260.79 616.5L261.3 616.5L261.81 616.5L262.31 616.5L262.82 616.5L263.33 616.5L263.83 616.5L264.34 616.5L264.85 616.5L265.36 616.49L265.86 616.49L266.37 616.49L266.88 616.49L267.38 616.49L267.89 616.49L268.4 616.49L268.9 616.49L269.41 616.49L269.92 616.49L270.43 616.49L270.93 616.49L271.44 616.49L271.95 616.49L272.45 616.49L272.96 616.49L273.47 616.48L273.97 616.48L274.48 616.48L274.99 616.48L275.5 616.48L276 616.48L276.51 616.48L277.02 616.48L277.52 616.48L278.03 616.48L278.54 616.48L279.04 616.48L279.55 616.48L280.06 616.48L280.57 616.48L281.07 616.48L281.58 616.47L282.09 616.47L282.59 616.47L283.1 616.47L283.61 616.47L284.12 616.47L284.62 616.47L285.13 616.47L285.64 616.47L286.14 616.47L286.65 616.47L287.16 616.47L287.66 616.47L288.17 616.47L288.68 616.47L289.19 616.47L289.69 616.46L290.2 616.46L290.71 616.46L291.21 616.46L291.72 616.46L292.23 616.46L292.73 616.46L293.24 616.46L293.75 616.46L294.26 616.46L294.76 616.46L295.27 616.46L295.78 616.46L296.28 616.46L296.79 616.46L297.3 616.46L297.8 616.46L298.31 616.45L298.82 616.45L299.33 616.45L299.83 616.45L300.34 616.45L300.85 616.45L301.35 616.45L301.86 616.45L302.37 616.45L302.87 616.45L303.38 616.45L303.89 616.45L304.4 616.45L304.9 616.45L305.41 616.45L305.92 616.45L306.42 616.44L306.93 616.44L307.44 616.44L307.94 616.44L308.45 616.44L308.96 616.44L309.47 616.44"/>
<path class="tk" d="M56.37 814.7v3.5M119.65 814.7v3.5M182.92 814.7v3.5M246.19 814.7v3.5M309.47 814.7v3.5M43.72 805.26h-3.5M43.72 767.5h-3.5M43.72 729.73h-3.5M43.72 691.97h-3.5M43.72 654.2h-3.5M43.72 616.44h-3.5"/>
<rect class="fr" x="43.5" y="607" width="278.95" height="207.5"/>
<g class="t10" text-anchor="middle">
<text x="56.37" y="830">0</text>
<text x="119.65" y="830">500</text>
<text x="182.92" y="830">1000</text>
<text x="246.19" y="830">1500</text>
<text x="309.47" y="830">2000</text>
<text x="182.92" y="844">Iteration</text>
</g>
<g class="t10 yt" text-anchor="end">
<text x="36.02" y="810">0</text>
<text x="36.02" y="772">20</text>
<text x="36.02" y="734">40</text>
<text x="36.02" y="696">60</text>
<text x="36.02" y="659">80</text>
<text x="36.02" y="621">100</text>
</g>
<text class="t10" text-anchor="middle" transform="translate(9.52 711.65) rotate(-90)">Percentage</text>
<text class="t12" text-anchor="middle" x="182.92" y="600.8">F10</text>
<rect class="lg" x="208.7" y="694.05" width="108.3" height="33.2" rx="2" ry="2"/>
<path class="ln b" d="M213.22 702.6h20.6"/>
<path class="ln r" d="M213.22 717.4h20.6"/>
<text class="t10 lt" x="242.42" y="707">Exploration</text>
<text class="t10 lt" x="242.42" y="722">Exploitation</text>
</g>
<g class="ax">
<path class="ln b" d="M416.4 616.44L416.78 699.52L417.42 729.73L417.8 743.89L418.18 758.05L418.68 768.44L419.19 778.82L419.65 781.97L420.12 785.12L420.58 788.27L421.09 789.96L421.59 791.66L422.1 793.36L422.61 795.06L423.11 795.7L423.62 796.34L424.12 796.97L424.63 797.61L425.14 798.25L425.64 798.89L426.15 799.52L426.65 800.16L427.16 800.44L427.67 800.73L428.17 801.01L428.68 801.29L429.19 801.58L429.69 801.86L430.2 802.14L430.7 802.43L431.21 802.71L431.72 802.99L432.22 802.96L432.72 802.93L433.22 802.89L433.72 802.86L434.22 802.83L434.72 802.8L435.22 802.76L435.72 802.73L436.22 802.7L436.72 802.66L437.21 802.63L437.71 802.6L438.21 802.56L438.71 802.53L439.21 802.5L439.71 802.46L440.21 802.43L440.71 802.4L441.21 802.37L441.71 802.33L442.23 802.3L442.75 802.26L443.26 802.23L443.78 802.19L444.3 802.16L444.81 802.12L445.33 802.08L445.85 802.05L446.36 802.01L446.88 801.98L447.4 801.94L447.91 801.91L448.43 801.87L448.95 801.84L449.46 801.8L449.98 801.77L450.5 801.73L451.01 801.7L451.53 801.66L452.05 801.62L452.56 801.59L453.08 801.55L453.6 801.52L454.12 801.48L454.62 801.47L455.13 801.45L455.63 801.44L456.14 801.42L456.65 801.41L457.15 801.39L457.66 801.38L458.16 801.36L458.67 801.35L459.18 801.33L459.68 801.32L460.19 801.3L460.7 801.29L461.2 801.27L461.71 801.26L462.21 801.24L462.72 801.23L463.23 801.21L463.73 801.2L464.24 801.18L464.74 801.17L465.25 801.15L465.76 801.14L466.26 801.12L466.77 801.11L467.28 801.1L467.78 801.08L468.29 801.07L468.79 801.05L469.3 801.04L469.81 801.02L470.31 801.01L470.82 800.99L471.33 800.98L471.83 800.96L472.34 800.95L472.84 800.93L473.35 800.92L473.87 800.89L474.39 800.86L474.9 800.84L475.42 800.81L475.94 800.79L476.46 800.76L476.97 800.74L477.49 800.71L478.01 800.68L478.53 800.66L479.04 800.63L479.56 800.61L480.08 800.58L480.6 800.56L481.12 800.53L481.63 800.5L482.15 800.48L482.67 800.45L483.19 800.43L483.7 800.4L484.22 800.38L484.74 800.35L485.25 800.29L485.75 800.22L486.26 800.16L486.76 800.1L487.27 800.04L487.78 799.97L488.28 799.91L488.79 799.85L489.29 799.78L489.8 799.72L490.31 799.66L490.81 799.59L491.32 799.53L491.83 799.47L492.33 799.41L492.86 799.31L493.39 799.22L493.91 799.12L494.44 799.03L494.97 798.93L495.5 798.84L496.02 798.74L496.55 798.65L497.08 798.56L497.6 798.46L498.13 798.37L498.66 798.27L499.19 798.21L499.71 798.15L500.24 798.08L500.77 798.02L501.3 797.96L501.82 797.9L502.35 797.83L502.88 797.77L503.4 797.71L503.93 797.64L504.46 797.58L504.99 797.52L505.49 797.47L506 797.43L506.5 797.38L507.01 797.34L507.52 797.29L508.02 797.25L508.53 797.2L509.04 797.16L509.54 797.11L510.05 797.06L510.55 797.02L511.06 796.97L511.57 796.93L512.07 796.88L512.58 796.84L513.09 796.79L513.59 796.75L514.1 796.7L514.6 796.66L515.11 796.61L515.62 796.57L516.12 796.52L516.63 796.48L517.13 796.43L517.64 796.38L518.15 796.36L518.65 796.34L519.16 796.32L519.67 796.29L520.17 796.27L520.68 796.25L521.18 796.23L521.69 796.2L522.2 796.18L522.7 796.16L523.21 796.14L523.72 796.11L524.22 796.09L524.73 796.07L525.23 796.04L525.74 796.02L526.25 796L526.75 795.98L527.26 795.95L527.76 795.93L528.27 795.91L528.78 795.89L529.28 795.86L529.79 795.84L530.3 795.82L530.8 795.82L531.31 795.82L531.81 795.82L532.32 795.82L532.83 795.82L533.33 795.82L533.84 795.82L534.34 795.82L534.85 795.82L535.36 795.82L535.86 795.82L536.37 795.82L536.88 795.82L537.38 795.82L537.89 795.82L538.39 795.82L538.9 795.82L539.41 795.82L539.91 795.82L540.42 795.82L540.93 795.82L541.43 795.82L541.94 795.82L542.44 795.82L542.95 795.82L543.46 795.83L543.96 795.83L544.47 795.84L544.97 795.85L545.48 795.86L545.99 795.86L546.49 795.87L547 795.88L547.51 795.89L548.01 795.89L548.52 795.9L549.02 795.91L549.53 795.92L550.04 795.92L550.54 795.93L551.05 795.94L551.56 795.95L552.06 795.95L552.57 795.96L553.07 795.97L553.58 795.98L554.09 795.98L554.59 795.99L555.1 796L555.6 796.01L556.11 796.01L556.62 796.02L557.12 796.03L557.63 796.04L558.14 796.04L558.64 796.05L559.15 796.06L559.65 796.07L560.16 796.07L560.67 796.08L561.17 796.09L561.68 796.1L562.18 796.11L562.69 796.11L563.2 796.12L563.7 796.13L564.21 796.14L564.72 796.14L565.22 796.15L565.73 796.16L566.23 796.17L566.74 796.17L567.25 796.18L567.75 796.19L568.26 796.2L568.77 796.2L569.27 796.21L569.78 796.22L570.28 796.23L570.79 796.23L571.3 796.24L571.8 796.25L572.31 796.26L572.81 796.26L573.32 796.27L573.83 796.28L574.33 796.29L574.84 796.29L575.35 796.3L575.85 796.31L576.36 796.32L576.86 796.32L577.37 796.33L577.88 796.34L578.38 796.35L578.89 796.35L579.4 796.36L579.9 796.37L580.41 796.38L580.91 796.38L581.42 796.39L581.93 796.4L582.43 796.41L582.94 796.41L583.44 796.42L583.95 796.43L584.46 796.44L584.96 796.45L585.47 796.45L585.98 796.46L586.48 796.47L586.99 796.48L587.49 796.48L588 796.49L588.51 796.5L589.01 796.51L589.52 796.51L590.02 796.52L590.53 796.53L591.04 796.54L591.54 796.54L592.05 796.55L592.56 796.56L593.06 796.57L593.57 796.57L594.07 796.58L594.58 796.59L595.09 796.6L595.59 796.6L596.1 796.61L596.61 796.62L597.11 796.63L597.62 796.63L598.12 796.64L598.63 796.65L599.14 796.66L599.64 796.66L600.15 796.67L600.65 796.68L601.16 796.69L601.67 796.69L602.17 796.7L602.68 796.71L603.19 796.72L603.69 796.72L604.2 796.73L604.7 796.74L605.21 796.75L605.72 796.75L606.22 796.76L606.73 796.76L607.24 796.77L607.74 796.77L608.25 796.77L608.75 796.77L609.26 796.77L609.77 796.77L610.27 796.77L610.78 796.78L611.28 796.78L611.79 796.78L612.3 796.78L612.8 796.78L613.31 796.78L613.82 796.78L614.32 796.79L614.83 796.79L615.33 796.79L615.84 796.79L616.35 796.79L616.85 796.79L617.36 796.8L617.86 796.8L618.37 796.8L618.88 796.8L619.38 796.8L619.89 796.8L620.4 796.8L620.9 796.81L621.41 796.81L621.91 796.81L622.42 796.81L622.93 796.81L623.43 796.81L623.94 796.82L624.45 796.82L624.95 796.82L625.46 796.82L625.96 796.82L626.47 796.82L626.98 796.82L627.48 796.83L627.99 796.83L628.49 796.83L629 796.83L629.51 796.83L630.01 796.83L630.52 796.83L631.03 796.84L631.53 796.84L632.04 796.84L632.54 796.84L633.05 796.84L633.56 796.84L634.06 796.85L634.57 796.85L635.08 796.85L635.58 796.85L636.09 796.85L636.59 796.85L637.1 796.85L637.61 796.86L638.11 796.86L638.62 796.86L639.12 796.86L639.63 796.86L640.14 796.86L640.64 796.86L641.15 796.87L641.66 796.87L642.16 796.87L642.67 796.87L643.17 796.87L643.68 796.87L644.19 796.88L644.69 796.88L645.2 796.88L645.7 796.88L646.21 796.88L646.72 796.88L647.22 796.88L647.73 796.89L648.24 796.89L648.74 796.89L649.25 796.89L649.75 796.89L650.26 796.89L650.77 796.9L651.27 796.9L651.78 796.9L652.29 796.9L652.79 796.9L653.3 796.9L653.8 796.9L654.31 796.91L654.82 796.91L655.32 796.91L655.83 796.91L656.33 796.91L656.84 796.91L657.35 796.91L657.85 796.92L658.36 796.92L658.87 796.92L659.37 796.92L659.88 796.92L660.38 796.92L660.89 796.93L661.4 796.93L661.9 796.93L662.41 796.93L662.92 796.93L663.42 796.93L663.93 796.93L664.43 796.94L664.94 796.94L665.45 796.94L665.95 796.94L666.46 796.94L666.96 796.94L667.47 796.95L667.98 796.95L668.48 796.95L668.99 796.95L669.5 796.95"/>
<path class="ln r" d="M416.4 805.26L416.78 722.18L417.42 691.97L417.8 677.81L418.18 663.65L418.68 653.26L419.19 642.88L419.65 639.73L420.12 636.58L420.58 633.43L421.09 631.74L421.59 630.04L422.1 628.34L422.61 626.64L423.11 626L423.62 625.36L424.12 624.73L424.63 624.09L425.14 623.45L425.64 622.81L426.15 622.18L426.65 621.54L427.16 621.26L427.67 620.97L428.17 620.69L428.68 620.41L429.19 620.12L429.69 619.84L430.2 619.56L430.7 619.27L431.21 618.99L431.72 618.71L432.22 618.74L432.72 618.77L433.22 618.81L433.72 618.84L434.22 618.87L434.72 618.9L435.22 618.94L435.72 618.97L436.22 619L436.72 619.04L437.21 619.07L437.71 619.1L438.21 619.14L438.71 619.17L439.21 619.2L439.71 619.24L440.21 619.27L440.71 619.3L441.21 619.33L441.71 619.37L442.23 619.4L442.75 619.44L443.26 619.47L443.78 619.51L444.3 619.54L444.81 619.58L445.33 619.62L445.85 619.65L446.36 619.69L446.88 619.72L447.4 619.76L447.91 619.79L448.43 619.83L448.95 619.86L449.46 619.9L449.98 619.93L450.5 619.97L451.01 620L451.53 620.04L452.05 620.08L452.56 620.11L453.08 620.15L453.6 620.18L454.12 620.22L454.62 620.23L455.13 620.25L455.63 620.26L456.14 620.28L456.65 620.29L457.15 620.31L457.66 620.32L458.16 620.34L458.67 620.35L459.18 620.37L459.68 620.38L460.19 620.4L460.7 620.41L461.2 620.43L461.71 620.44L462.21 620.46L462.72 620.47L463.23 620.49L463.73 620.5L464.24 620.52L464.74 620.53L465.25 620.55L465.76 620.56L466.26 620.58L466.77 620.59L467.28 620.6L467.78 620.62L468.29 620.63L468.79 620.65L469.3 620.66L469.81 620.68L470.31 620.69L470.82 620.71L471.33 620.72L471.83 620.74L472.34 620.75L472.84 620.77L473.35 620.78L473.87 620.81L474.39 620.84L474.9 620.86L475.42 620.89L475.94 620.91L476.46 620.94L476.97 620.96L477.49 620.99L478.01 621.02L478.53 621.04L479.04 621.07L479.56 621.09L480.08 621.12L480.6 621.14L481.12 621.17L481.63 621.2L482.15 621.22L482.67 621.25L483.19 621.27L483.7 621.3L484.22 621.32L484.74 621.35L485.25 621.41L485.75 621.48L486.26 621.54L486.76 621.6L487.27 621.66L487.78 621.73L488.28 621.79L488.79 621.85L489.29 621.92L489.8 621.98L490.31 622.04L490.81 622.11L491.32 622.17L491.83 622.23L492.33 622.29L492.86 622.39L493.39 622.48L493.91 622.58L494.44 622.67L494.97 622.77L495.5 622.86L496.02 622.96L496.55 623.05L497.08 623.14L497.6 623.24L498.13 623.33L498.66 623.43L499.19 623.49L499.71 623.55L500.24 623.62L500.77 623.68L501.3 623.74L501.82 623.8L502.35 623.87L502.88 623.93L503.4 623.99L503.93 624.06L504.46 624.12L504.99 624.18L505.49 624.23L506 624.27L506.5 624.32L507.01 624.36L507.52 624.41L508.02 624.45L508.53 624.5L509.04 624.54L509.54 624.59L510.05 624.64L510.55 624.68L511.06 624.73L511.57 624.77L512.07 624.82L512.58 624.86L513.09 624.91L513.59 624.95L514.1 625L514.6 625.04L515.11 625.09L515.62 625.13L516.12 625.18L516.63 625.22L517.13 625.27L517.64 625.32L518.15 625.34L518.65 625.36L519.16 625.38L519.67 625.41L520.17 625.43L520.68 625.45L521.18 625.47L521.69 625.5L522.2 625.52L522.7 625.54L523.21 625.56L523.72 625.59L524.22 625.61L524.73 625.63L525.23 625.66L525.74 625.68L526.25 625.7L526.75 625.72L527.26 625.75L527.76 625.77L528.27 625.79L528.78 625.81L529.28 625.84L529.79 625.86L530.3 625.88L530.8 625.88L531.31 625.88L531.81 625.88L532.32 625.88L532.83 625.88L533.33 625.88L533.84 625.88L534.34 625.88L534.85 625.88L535.36 625.88L535.86 625.88L536.37 625.88L536.88 625.88L537.38 625.88L537.89 625.88L538.39 625.88L538.9 625.88L539.41 625.88L539.91 625.88L540.42 625.88L540.93 625.88L541.43 625.88L541.94 625.88L542.44 625.88L542.95 625.88L543.46 625.87L543.96 625.87L544.47 625.86L544.97 625.85L545.48 625.84L545.99 625.84L546.49 625.83L547 625.82L547.51 625.81L548.01 625.81L548.52 625.8L549.02 625.79L549.53 625.78L550.04 625.78L550.54 625.77L551.05 625.76L551.56 625.75L552.06 625.75L552.57 625.74L553.07 625.73L553.58 625.72L554.09 625.72L554.59 625.71L555.1 625.7L555.6 625.69L556.11 625.69L556.62 625.68L557.12 625.67L557.63 625.66L558.14 625.66L558.64 625.65L559.15 625.64L559.65 625.63L560.16 625.63L560.67 625.62L561.17 625.61L561.68 625.6L562.18 625.59L562.69 625.59L563.2 625.58L563.7 625.57L564.21 625.56L564.72 625.56L565.22 625.55L565.73 625.54L566.23 625.53L566.74 625.53L567.25 625.52L567.75 625.51L568.26 625.5L568.77 625.5L569.27 625.49L569.78 625.48L570.28 625.47L570.79 625.47L571.3 625.46L571.8 625.45L572.31 625.44L572.81 625.44L573.32 625.43L573.83 625.42L574.33 625.41L574.84 625.41L575.35 625.4L575.85 625.39L576.36 625.38L576.86 625.38L577.37 625.37L577.88 625.36L578.38 625.35L578.89 625.35L579.4 625.34L579.9 625.33L580.41 625.32L580.91 625.32L581.42 625.31L581.93 625.3L582.43 625.29L582.94 625.29L583.44 625.28L583.95 625.27L584.46 625.26L584.96 625.25L585.47 625.25L585.98 625.24L586.48 625.23L586.99 625.22L587.49 625.22L588 625.21L588.51 625.2L589.01 625.19L589.52 625.19L590.02 625.18L590.53 625.17L591.04 625.16L591.54 625.16L592.05 625.15L592.56 625.14L593.06 625.13L593.57 625.13L594.07 625.12L594.58 625.11L595.09 625.1L595.59 625.1L596.1 625.09L596.61 625.08L597.11 625.07L597.62 625.07L598.12 625.06L598.63 625.05L599.14 625.04L599.64 625.04L600.15 625.03L600.65 625.02L601.16 625.01L601.67 625.01L602.17 625L602.68 624.99L603.19 624.98L603.69 624.98L604.2 624.97L604.7 624.96L605.21 624.95L605.72 624.95L606.22 624.94L606.73 624.94L607.24 624.93L607.74 624.93L608.25 624.93L608.75 624.93L609.26 624.93L609.77 624.93L610.27 624.93L610.78 624.92L611.28 624.92L611.79 624.92L612.3 624.92L612.8 624.92L613.31 624.92L613.82 624.92L614.32 624.91L614.83 624.91L615.33 624.91L615.84 624.91L616.35 624.91L616.85 624.91L617.36 624.9L617.86 624.9L618.37 624.9L618.88 624.9L619.38 624.9L619.89 624.9L620.4 624.9L620.9 624.89L621.41 624.89L621.91 624.89L622.42 624.89L622.93 624.89L623.43 624.89L623.94 624.88L624.45 624.88L624.95 624.88L625.46 624.88L625.96 624.88L626.47 624.88L626.98 624.88L627.48 624.87L627.99 624.87L628.49 624.87L629 624.87L629.51 624.87L630.01 624.87L630.52 624.87L631.03 624.86L631.53 624.86L632.04 624.86L632.54 624.86L633.05 624.86L633.56 624.86L634.06 624.85L634.57 624.85L635.08 624.85L635.58 624.85L636.09 624.85L636.59 624.85L637.1 624.85L637.61 624.84L638.11 624.84L638.62 624.84L639.12 624.84L639.63 624.84L640.14 624.84L640.64 624.84L641.15 624.83L641.66 624.83L642.16 624.83L642.67 624.83L643.17 624.83L643.68 624.83L644.19 624.82L644.69 624.82L645.2 624.82L645.7 624.82L646.21 624.82L646.72 624.82L647.22 624.82L647.73 624.81L648.24 624.81L648.74 624.81L649.25 624.81L649.75 624.81L650.26 624.81L650.77 624.8L651.27 624.8L651.78 624.8L652.29 624.8L652.79 624.8L653.3 624.8L653.8 624.8L654.31 624.79L654.82 624.79L655.32 624.79L655.83 624.79L656.33 624.79L656.84 624.79L657.35 624.79L657.85 624.78L658.36 624.78L658.87 624.78L659.37 624.78L659.88 624.78L660.38 624.78L660.89 624.77L661.4 624.77L661.9 624.77L662.41 624.77L662.92 624.77L663.42 624.77L663.93 624.77L664.43 624.76L664.94 624.76L665.45 624.76L665.95 624.76L666.46 624.76L666.96 624.76L667.47 624.75L667.98 624.75L668.48 624.75L668.99 624.75L669.5 624.75"/>
<path class="tk" d="M416.4 814.7v3.5M479.68 814.7v3.5M542.95 814.7v3.5M606.22 814.7v3.5M669.5 814.7v3.5M403.75 805.26h-3.5M403.75 767.5h-3.5M403.75 729.73h-3.5M403.75 691.97h-3.5M403.75 654.2h-3.5M403.75 616.44h-3.5"/>
<rect class="fr" x="403.9" y="607" width="278.65" height="207.5"/>
<g class="t10" text-anchor="middle">
<text x="416.4" y="830">0</text>
<text x="479.68" y="830">500</text>
<text x="542.95" y="830">1000</text>
<text x="606.22" y="830">1500</text>
<text x="669.5" y="830">2000</text>
<text x="542.95" y="844">Iteration</text>
</g>
<g class="t10 yt" text-anchor="end">
<text x="396.05" y="810">0</text>
<text x="396.05" y="772">20</text>
<text x="396.05" y="734">40</text>
<text x="396.05" y="696">60</text>
<text x="396.05" y="659">80</text>
<text x="396.05" y="621">100</text>
</g>
<text class="t10" text-anchor="middle" transform="translate(369.55 711.65) rotate(-90)">Percentage</text>
<text class="t12" text-anchor="middle" x="542.95" y="600.8">F15</text>
<rect class="lg" x="569.2" y="694.05" width="108.3" height="33.2" rx="2" ry="2"/>
<path class="ln b" d="M573.25 702.6h20.6"/>
<path class="ln r" d="M573.25 717.4h20.6"/>
<text class="t10 lt" x="602.45" y="707">Exploration</text>
<text class="t10 lt" x="602.45" y="722">Exploitation</text>
</g>
</svg>
</body></html>
